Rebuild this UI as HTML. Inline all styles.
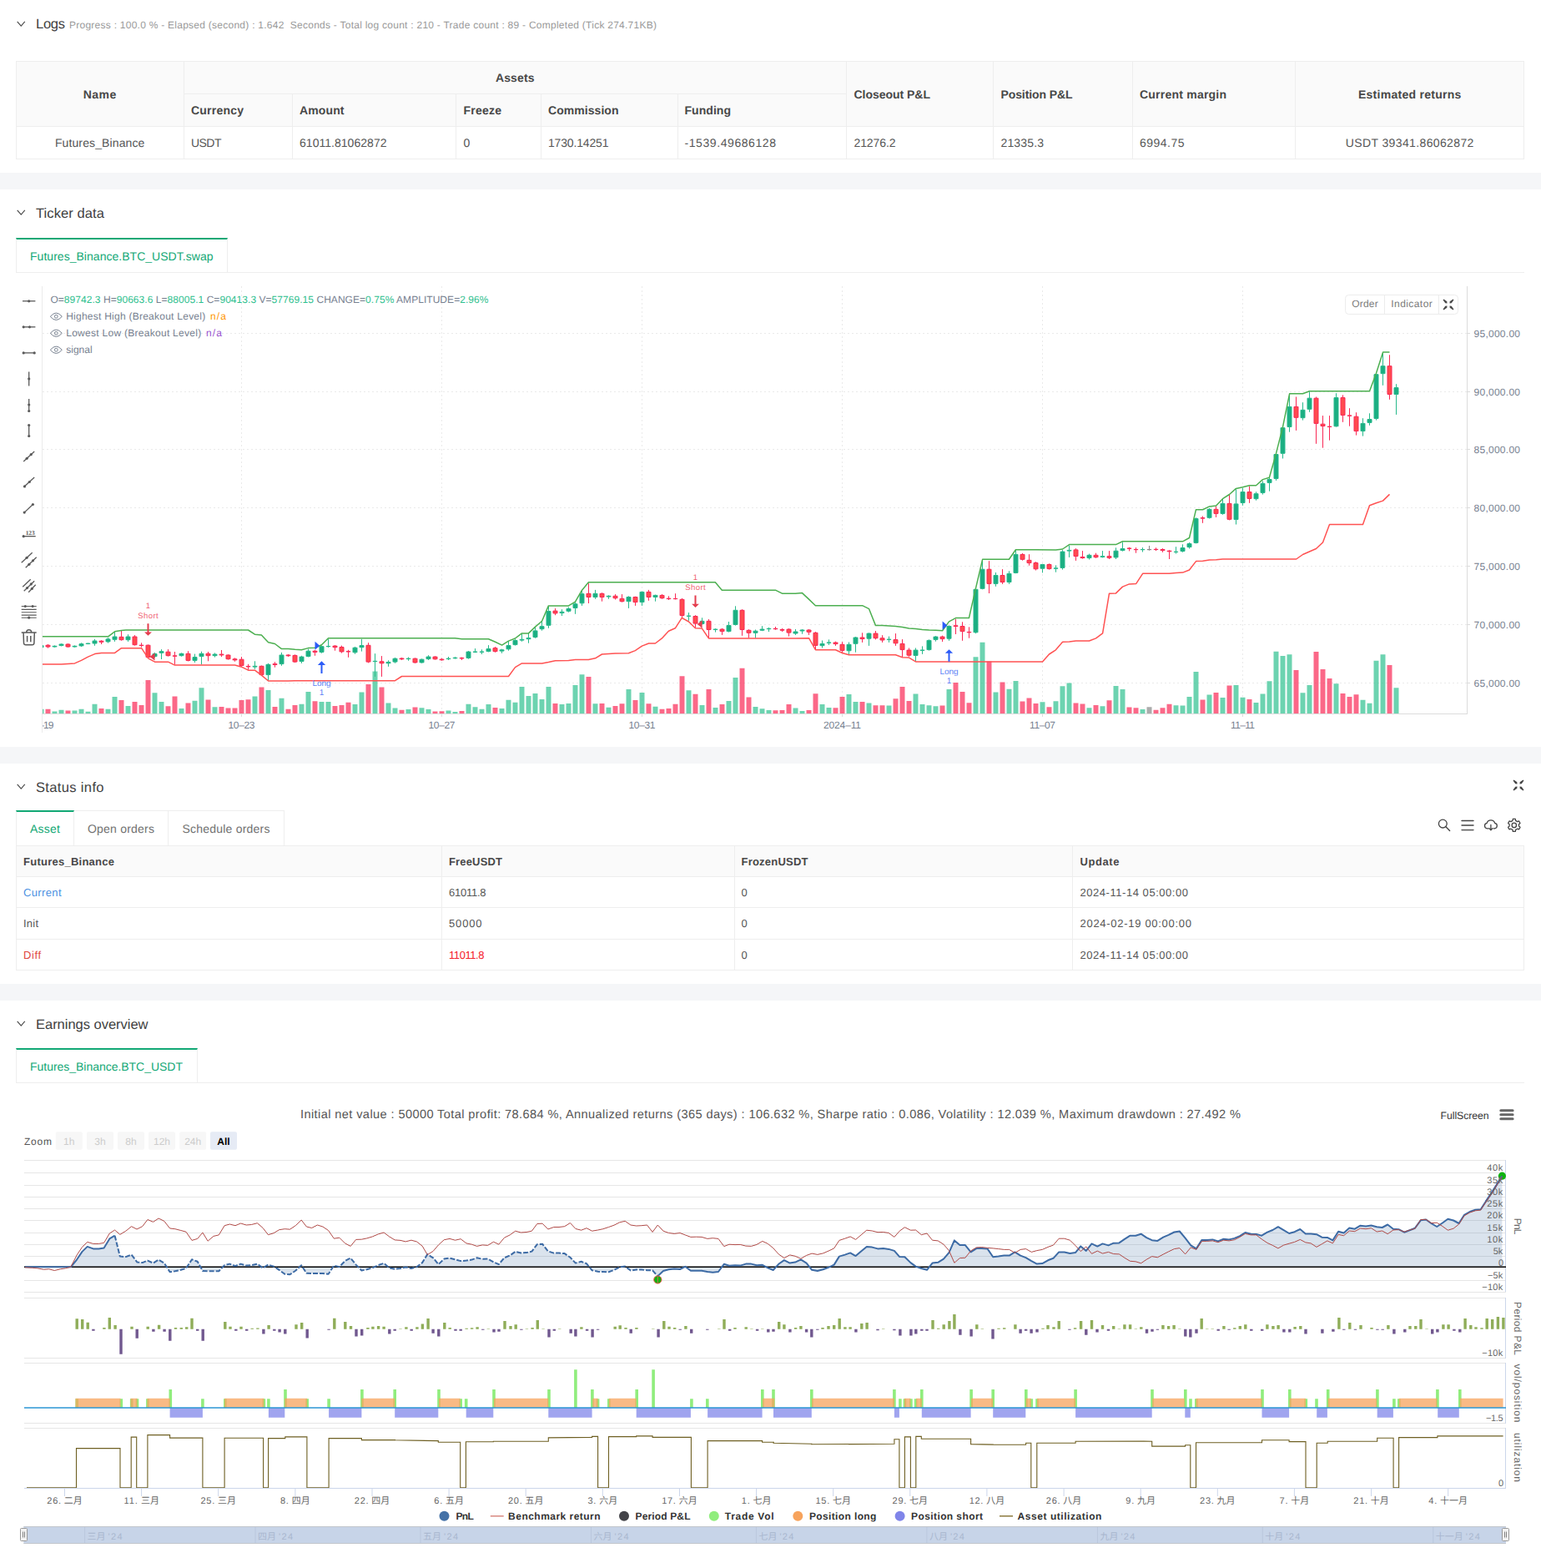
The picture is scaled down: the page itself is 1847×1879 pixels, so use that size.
<!DOCTYPE html>
<html><head><meta charset="utf-8"><title>Backtest</title>
<style>
*{box-sizing:border-box;margin:0;padding:0}
html,body{width:1847px;height:1879px;background:#fff;overflow:hidden}
body{position:relative;font-family:"Liberation Sans",sans-serif;color:#555;font-size:14px;text-rendering:geometricPrecision;-webkit-font-smoothing:antialiased}
svg text{text-rendering:geometricPrecision}
.abs{position:absolute}
.band{position:absolute;left:0;width:1847px;background:#f5f6f8}
.t{position:absolute;white-space:nowrap;line-height:1;transform:translateY(-50%)}
.tc{position:absolute;white-space:nowrap;line-height:1;transform:translate(-50%,-50%)}
.h{font-size:16.5px;color:#404040}
.b{font-weight:bold;color:#484848}
.ln{position:absolute;background:#eeeeee}
.g{color:#12a875}
svg{position:absolute;left:0;top:0}
</style></head>
<body>
<div class="band" style="top:207px;height:20px"></div>
<div class="band" style="top:895px;height:20px"></div>
<div class="band" style="top:1179px;height:20px"></div>
<svg style="left:20px;top:25.3px" width="11" height="8" viewBox="0 0 11 8"><path d="M0.7 0.9 L5.25 6.2 L9.8 0.9" fill="none" stroke="#4a4a4a" stroke-width="1.15"/></svg>
<div class="t h" style="left:43px;top:28.9px;letter-spacing:-0.260px;">Logs</div>
<div class="t " style="left:83px;top:30px;font-size:12px;color:#999;letter-spacing:0.255px;">Progress : 100.0 % - Elapsed (second) : 1.642&nbsp; Seconds - Total log count : 210 - Trade count : 89 - Completed (Tick 274.71KB)</div>
<div class="abs" style="left:19px;top:73px;width:1808px;height:79px;background:#fafafa"></div>
<div class="ln" style="left:19px;top:73px;width:1808px;height:1px;background:#eeeeee"></div>
<div class="ln" style="left:220px;top:112px;width:794px;height:1px;background:#eeeeee"></div>
<div class="ln" style="left:19px;top:151px;width:1808px;height:1px;background:#eeeeee"></div>
<div class="ln" style="left:19px;top:190px;width:1808px;height:1px;background:#eeeeee"></div>
<div class="ln" style="left:19px;top:73px;width:1px;height:118px;background:#eeeeee"></div>
<div class="ln" style="left:220px;top:73px;width:1px;height:118px;background:#eeeeee"></div>
<div class="ln" style="left:350px;top:112px;width:1px;height:79px;background:#eeeeee"></div>
<div class="ln" style="left:546px;top:112px;width:1px;height:79px;background:#eeeeee"></div>
<div class="ln" style="left:648px;top:112px;width:1px;height:79px;background:#eeeeee"></div>
<div class="ln" style="left:812px;top:112px;width:1px;height:79px;background:#eeeeee"></div>
<div class="ln" style="left:1014px;top:73px;width:1px;height:118px;background:#eeeeee"></div>
<div class="ln" style="left:1190px;top:73px;width:1px;height:118px;background:#eeeeee"></div>
<div class="ln" style="left:1357px;top:73px;width:1px;height:118px;background:#eeeeee"></div>
<div class="ln" style="left:1552px;top:73px;width:1px;height:118px;background:#eeeeee"></div>
<div class="ln" style="left:1826px;top:73px;width:1px;height:118px;background:#eeeeee"></div>
<div class="tc b" style="left:119.7px;top:113px;font-size:14px;letter-spacing:0.453px;">Name</div>
<div class="tc b" style="left:617.3px;top:93px;font-size:14px;letter-spacing:0.116px;">Assets</div>
<div class="t b" style="left:229px;top:132px;font-size:14px;letter-spacing:0.219px;">Currency</div>
<div class="t b" style="left:359px;top:132px;font-size:14px;letter-spacing:0.122px;">Amount</div>
<div class="t b" style="left:555.5px;top:132px;font-size:14px;letter-spacing:0.228px;">Freeze</div>
<div class="t b" style="left:657px;top:132px;font-size:14px;letter-spacing:0.054px;">Commission</div>
<div class="t b" style="left:820.5px;top:132px;font-size:14px;letter-spacing:0.049px;">Funding</div>
<div class="t b" style="left:1023.5px;top:113px;font-size:14px;letter-spacing:-0.026px;">Closeout P&amp;L</div>
<div class="t b" style="left:1199.5px;top:113px;font-size:14px;letter-spacing:-0.102px;">Position P&amp;L</div>
<div class="t b" style="left:1366px;top:113px;font-size:14px;letter-spacing:0.221px;">Current margin</div>
<div class="tc b" style="left:1689.8px;top:113px;font-size:14px;letter-spacing:0.278px;">Estimated returns</div>
<div class="tc " style="left:119.7px;top:171px;letter-spacing:0.118px;">Futures_Binance</div>
<div class="t " style="left:229px;top:171px;letter-spacing:-0.542px;">USDT</div>
<div class="t " style="left:359px;top:171px;letter-spacing:0.032px;">61011.81062872</div>
<div class="t " style="left:555.5px;top:171px;">0</div>
<div class="t " style="left:657px;top:171px;letter-spacing:-0.163px;">1730.14251</div>
<div class="t " style="left:820.5px;top:171px;letter-spacing:0.577px;">-1539.49686128</div>
<div class="t " style="left:1023.5px;top:171px;letter-spacing:-0.102px;">21276.2</div>
<div class="t " style="left:1199.5px;top:171px;letter-spacing:0.148px;">21335.3</div>
<div class="t " style="left:1366px;top:171px;letter-spacing:0.482px;">6994.75</div>
<div class="tc " style="left:1689.8px;top:171px;letter-spacing:0.369px;">USDT 39341.86062872</div>
<svg style="left:20px;top:251.3px" width="11" height="8" viewBox="0 0 11 8"><path d="M0.7 0.9 L5.25 6.2 L9.8 0.9" fill="none" stroke="#4a4a4a" stroke-width="1.15"/></svg>
<div class="t h" style="left:43px;top:255.8px;letter-spacing:0.098px;">Ticker data</div>
<div class="ln" style="left:19px;top:326px;width:1808px;height:1px;background:#eeeeee"></div>
<div class="abs" style="left:19px;top:285px;width:254px;height:42px;background:#fff;border:1px solid #eeeeee;border-top:2px solid #12a875;border-bottom:1px solid #eeeeee"></div>
<div class="t g" style="left:36px;top:307px;font-size:14px;letter-spacing:0.030px;">Futures_Binance.BTC_USDT.swap</div>
<svg style="left:20px;top:939.3px" width="11" height="8" viewBox="0 0 11 8"><path d="M0.7 0.9 L5.25 6.2 L9.8 0.9" fill="none" stroke="#4a4a4a" stroke-width="1.15"/></svg>
<div class="t h" style="left:43px;top:943.6px;letter-spacing:0.353px;">Status info</div>
<div class="ln" style="left:19px;top:1013px;width:1808px;height:1px;background:#eeeeee"></div>
<div class="abs" style="left:88px;top:971px;width:253px;height:43px;background:#fff;border:1px solid #eeeeee"></div>
<div class="ln" style="left:201px;top:971px;width:1px;height:42px;background:#eeeeee"></div>
<div class="abs" style="left:19px;top:971px;width:70px;height:43px;background:#fff;border:1px solid #eeeeee;border-top:2px solid #12a875;border-bottom:1px solid #eeeeee"></div>
<div class="t g" style="left:36px;top:993px;letter-spacing:0.246px;">Asset</div>
<div class="t " style="left:105px;top:993px;color:#707070;letter-spacing:0.217px;">Open orders</div>
<div class="t " style="left:218.5px;top:993px;color:#707070;letter-spacing:0.218px;">Schedule orders</div>
<div class="abs" style="left:19px;top:1013px;width:1808px;height:37px;background:#fafafa"></div>
<div class="ln" style="left:19px;top:1013px;width:1808px;height:1px;background:#eeeeee"></div>
<div class="ln" style="left:19px;top:1050px;width:1808px;height:1px;background:#eeeeee"></div>
<div class="ln" style="left:19px;top:1087px;width:1808px;height:1px;background:#eeeeee"></div>
<div class="ln" style="left:19px;top:1125px;width:1808px;height:1px;background:#eeeeee"></div>
<div class="ln" style="left:19px;top:1162px;width:1808px;height:1px;background:#eeeeee"></div>
<div class="ln" style="left:19px;top:1013px;width:1px;height:150px;background:#eeeeee"></div>
<div class="ln" style="left:529px;top:1013px;width:1px;height:150px;background:#eeeeee"></div>
<div class="ln" style="left:880px;top:1013px;width:1px;height:150px;background:#eeeeee"></div>
<div class="ln" style="left:1285px;top:1013px;width:1px;height:150px;background:#eeeeee"></div>
<div class="ln" style="left:1826px;top:1013px;width:1px;height:150px;background:#eeeeee"></div>
<div class="t b" style="left:28px;top:1032px;font-size:13px;letter-spacing:0.251px;">Futures_Binance</div>
<div class="t b" style="left:538px;top:1032px;font-size:13px;letter-spacing:0.163px;">FreeUSDT</div>
<div class="t b" style="left:888.5px;top:1032px;font-size:13px;letter-spacing:0.222px;">FrozenUSDT</div>
<div class="t b" style="left:1294.5px;top:1032px;font-size:13px;letter-spacing:0.588px;">Update</div>
<div class="t " style="left:28px;top:1069px;font-size:13px;color:#4a90e2;letter-spacing:0.357px;">Current</div>
<div class="t " style="left:538px;top:1069px;font-size:13px;color:#555;letter-spacing:-0.255px;">61011.8</div>
<div class="t " style="left:888.5px;top:1069px;font-size:13px;">0</div>
<div class="t " style="left:1294.5px;top:1069px;font-size:13px;letter-spacing:0.542px;">2024-11-14 05:00:00</div>
<div class="t " style="left:28px;top:1106px;font-size:13px;color:#555;letter-spacing:0.219px;">Init</div>
<div class="t " style="left:538px;top:1106px;font-size:13px;color:#555;letter-spacing:0.836px;">50000</div>
<div class="t " style="left:888.5px;top:1106px;font-size:13px;">0</div>
<div class="t " style="left:1294.5px;top:1106px;font-size:13px;letter-spacing:0.710px;">2024-02-19 00:00:00</div>
<div class="t " style="left:28px;top:1144px;font-size:13px;color:#e0483e;letter-spacing:0.578px;">Diff</div>
<div class="t " style="left:538px;top:1144px;font-size:13px;color:#f5222d;letter-spacing:-0.427px;">11011.8</div>
<div class="t " style="left:888.5px;top:1144px;font-size:13px;">0</div>
<div class="t " style="left:1294.5px;top:1144px;font-size:13px;letter-spacing:0.542px;">2024-11-14 05:00:00</div>
<svg style="left:20px;top:1223.3px" width="11" height="8" viewBox="0 0 11 8"><path d="M0.7 0.9 L5.25 6.2 L9.8 0.9" fill="none" stroke="#4a4a4a" stroke-width="1.15"/></svg>
<div class="t h" style="left:43px;top:1227.6px;letter-spacing:-0.020px;">Earnings overview</div>
<div class="ln" style="left:19px;top:1297px;width:1808px;height:1px;background:#eeeeee"></div>
<div class="abs" style="left:19px;top:1256px;width:218px;height:42px;background:#fff;border:1px solid #eeeeee;border-top:2px solid #12a875;border-bottom:1px solid #eeeeee"></div>
<div class="t g" style="left:36px;top:1278px;letter-spacing:-0.028px;">Futures_Binance.BTC_USDT</div>
<svg width="1847" height="1879" viewBox="0 0 1847 1879" font-family='"Liberation Sans", sans-serif'>
<defs><clipPath id="kc"><rect x="51" y="343" width="1707" height="512.5"/></clipPath><clipPath id="kc2"><rect x="51" y="858" width="100" height="22"/></clipPath></defs>
<path d="M50.5 343V878" stroke="#ebebeb" stroke-width="1" fill="none"/>
<path d="M1758.5 343V856M50 855.5H1759" stroke="#dcdcdc" stroke-width="1" fill="none"/>
<path d="M51 399.5H1758M51 469.5H1758M51 538.5H1758M51 608.5H1758M51 678.5H1758M51 748.5H1758M51 818.5H1758M289.5 343V855M529.5 343V855M769.5 343V855M1009.5 343V855M1249.5 343V855M1489.5 343V855" stroke="#eaeaea" stroke-width="1" stroke-dasharray="2 3" fill="none"/>
<path d="M1758 399.5H1762M1758 469.5H1762M1758 538.5H1762M1758 608.5H1762M1758 678.5H1762M1758 748.5H1762M1758 818.5H1762M289.5 855V859M529.5 855V859M769.5 855V859M1009.5 855V859M1249.5 855V859M1489.5 855V859" stroke="#dcdcdc" stroke-width="1" fill="none"/>
<text x="1766.5" y="403.6" font-size="12" fill="#76808f" textLength="55.5">95,000.00</text>
<text x="1766.5" y="473.6" font-size="12" fill="#76808f" textLength="55.5">90,000.00</text>
<text x="1766.5" y="542.6" font-size="12" fill="#76808f" textLength="55.5">85,000.00</text>
<text x="1766.5" y="612.6" font-size="12" fill="#76808f" textLength="55.5">80,000.00</text>
<text x="1766.5" y="682.6" font-size="12" fill="#76808f" textLength="55.5">75,000.00</text>
<text x="1766.5" y="752.6" font-size="12" fill="#76808f" textLength="55.5">70,000.00</text>
<text x="1766.5" y="822.6" font-size="12" fill="#76808f" textLength="55.5">65,000.00</text>
<text x="289.5" y="873.3" font-size="12" fill="#76808f" text-anchor="middle" textLength="32">10–23</text>
<text x="529.5" y="873.3" font-size="12" fill="#76808f" text-anchor="middle" textLength="32">10–27</text>
<text x="769.5" y="873.3" font-size="12" fill="#76808f" text-anchor="middle" textLength="32">10–31</text>
<text x="1009.5" y="873.3" font-size="12" fill="#76808f" text-anchor="middle" textLength="45">2024–11</text>
<text x="1249.5" y="873.3" font-size="12" fill="#76808f" text-anchor="middle" textLength="31">11–07</text>
<text x="1489.5" y="873.3" font-size="12" fill="#76808f" text-anchor="middle" textLength="29">11–11</text>
<text x="49.5" y="873.3" font-size="12" fill="#76808f" text-anchor="middle" textLength="30" clip-path="url(#kc2)">10–19</text>
<g clip-path="url(#kc)">
<path d="M49.5 772.7V776.7M65.5 773.4V775.8M73.5 771.2V774.4M89.5 773.4V775.8M97.5 770.3V775.1M105.5 770.5V772.2M113.5 765.8V773.8M129.5 764.1V770.6M137.5 757.6V768.9M153.5 760.2V768.9M185.5 781.9V788M193.5 778.1V790M217.5 782.4V786.7M233.5 783.6V794M241.5 780.7V796.1M257.5 782.4V787.6M305.5 792.3V801.8M321.5 794.9V815.7M337.5 781.9V797.8M361.5 785.8V794.9M369.5 777.6V787.5M385.5 773.6V782.8M393.5 765.8V775.9M425.5 775V783.7M433.5 765.8V780.6M449.5 783.2V810.9M465.5 791.3V798.8M473.5 788V794.8M489.5 787.5V791.8M505.5 789.4V794.8M513.5 785.2V791M537.5 787V791M545.5 787.1V789.7M561.5 780V789.7M569.5 777.1V782.3M577.5 778.3V784M585.5 773.1V781.4M601.5 777.6V782.8M609.5 768.4V779.7M617.5 765.8V773.6M625.5 759.8V768.8M633.5 758.9V770.7M641.5 751V764.9M649.5 744.1V755.7M657.5 726.8V752.8M673.5 730.2V738M681.5 727.6V733.7M689.5 721.6V735.8M697.5 706.9V725.9M713.5 706.9V717.8M729.5 713.3V717.8M753.5 714.3V728.9M769.5 708.6V725.9M785.5 712.6V720.7M825.5 734.1V743.8M841.5 740.3V748.4M857.5 753.1V757.6M873.5 745V757.6M881.5 726.3V749.6M905.5 754.5V764.5M913.5 750.2V756.2M921.5 751.9V757.1M953.5 754V760.9M961.5 754V759.7M985.5 767.5V776.5M993.5 766.4V773M1017.5 769.5V784.3M1025.5 763V781.7M1041.5 758.3V773.9M1065.5 762.6V769.9M1097.5 776.5V792.4M1105.5 774.4V783.9M1113.5 766.4V779.6M1121.5 762.1V768.7M1137.5 749.3V767.8M1169.5 705.1V759.1M1177.5 670.4V706.3M1193.5 686V702.8M1209.5 684.3V699.9M1217.5 659.5V687.2M1249.5 675.7V686.4M1265.5 677.4V685.7M1273.5 659.2V682.6M1281.5 653.7V667.9M1305.5 663.6V670.5M1321.5 660.1V668.4M1337.5 656.3V670M1345.5 649.7V660.6M1369.5 656.1V661.5M1409.5 655.2V663.6M1417.5 652.3V661.8M1425.5 650V657.5M1433.5 620.2V651.4M1449.5 609V621.5M1465.5 597.7V616.8M1481.5 586.3V628.5M1489.5 584.8V605.8M1505.5 589.3V599.7M1513.5 576.5V592.6M1521.5 571.6V588.7M1529.5 543.4V575.9M1537.5 511.6V549.5M1545.5 472.4V517.7M1561.5 482.2V503.6M1569.5 469.4V493.8M1601.5 471.2V511.6M1633.5 501.2V522.6M1641.5 495.3V509.8M1649.5 447.3V503.6M1657.5 422.2V461.8M1673.5 460.2V496.9" stroke="#27b98b" stroke-width="1" fill="none"/><path d="M57.5 772V776.7M81.5 771.2V775.8M121.5 767.2V772M145.5 755.4V767.7M161.5 761.1V773.6M169.5 770.3V775.5M177.5 772.4V788.8M201.5 778.1V786.6M209.5 781V796.3M225.5 780.2V792.5M249.5 781V792.3M265.5 779V787.1M273.5 784.2V790.6M281.5 788.3V792.8M289.5 787.1V798.7M297.5 795.8V802.7M313.5 797.5V809.6M329.5 793.2V799.7M345.5 784V787M353.5 784.4V794.1M377.5 778.8V785.8M401.5 773.1V779.7M409.5 773.6V782.6M417.5 778.8V787.8M441.5 770.2V794.4M457.5 786.1V810.9M481.5 788V791M497.5 788.4V794.8M521.5 786.3V790.6M529.5 788.7V791.8M553.5 787.5V791M593.5 775V781.8M665.5 729V737.2M705.5 699.1V723M721.5 710.3V720.7M737.5 712.1V718.5M745.5 712.1V721.6M761.5 714.7V725.9M777.5 706.9V719.8M793.5 712.1V717.8M801.5 714.3V719M809.5 711.2V718.5M817.5 716.9V740.6M833.5 737.2V751.9M849.5 742V764.5M865.5 752.8V760.9M889.5 730.2V761.8M897.5 754.2V764.5M929.5 751V754.8M937.5 752.8V757.1M945.5 753.1V762.6M969.5 754V760.9M977.5 757.1V778.2M1001.5 768.7V773.9M1009.5 769.2V782.5M1033.5 758.3V769.9M1049.5 756V766.4M1057.5 761.2V769.9M1073.5 759.1V773.9M1081.5 766.1V787.7M1089.5 776.5V786.9M1129.5 761.7V769M1145.5 741.8V760M1153.5 745.3V767.8M1161.5 751.4V764.7M1185.5 672.2V711M1201.5 682.1V699.9M1225.5 663V671.7M1233.5 664.2V677.7M1241.5 673.1V683.5M1257.5 675.3V682.6M1289.5 657.1V671.9M1297.5 660.1V669.6M1313.5 662.7V668.8M1329.5 660.1V670M1353.5 655.8V660.4M1361.5 656.1V662.7M1385.5 656.3V660.1M1393.5 657.1V661.8M1401.5 659.2V670M1441.5 618.5V626.8M1457.5 606.4V619.9M1473.5 592.5V623.4M1497.5 582.6V602.8M1553.5 475.5V515.9M1577.5 475.5V531.8M1585.5 498.1V536.7M1593.5 498.1V527.7M1609.5 473.4V505.8M1617.5 489.2V510.7M1625.5 494.2V521.6M1665.5 425.3V478.8" stroke="#f92855" stroke-width="1" fill="none"/><path d="M1377.5 654V659.7" stroke="#888888" stroke-width="1" fill="none"/>
<path d="M47 773.7h5V775.7h-5zM63 774.3h5V775h-5zM71 772h5V773.6h-5zM87 774.3h5V775h-5zM95 771.7h5V773.9h-5zM103 771.1h5V771.5h-5zM111 768h5V771h-5zM127 765.9h5V768.9h-5zM135 763h5V766.3h-5zM151 763h5V766.7h-5zM183 783.6h5V786.6h-5zM191 780.7h5V782.3h-5zM215 783.3h5V785.7h-5zM231 787.6h5V791.4h-5zM239 783.3h5V786.6h-5zM255 784.1h5V785.7h-5zM303 798.3h5V799.1h-5zM319 796.3h5V808.6h-5zM335 785h5V795.6h-5zM359 787.1h5V792.5h-5zM367 780.2h5V786.5h-5zM383 774.7h5V781.4h-5zM391 774.5h5V774.7h-5zM423 776.2h5V781.8h-5zM431 773.6h5V775.7h-5zM447 792.3h5V792.7h-5zM463 793.5h5V794.8h-5zM471 789.2h5V793.1h-5zM487 789.2h5V789.6h-5zM503 790.2h5V793.9h-5zM511 787.1h5V789.6h-5zM535 789.2h5V789.6h-5zM543 788.3h5V788.7h-5zM559 781.1h5V788.4h-5zM567 781.1h5V781.3h-5zM575 781.1h5V781.3h-5zM583 777.6h5V780.6h-5zM599 778.8h5V780.1h-5zM607 773.6h5V777.8h-5zM615 767.5h5V772.6h-5zM623 766.3h5V767.1h-5zM631 764.6h5V765.7h-5zM639 755.9h5V763.5h-5zM647 750.7h5V753.7h-5zM655 732.5h5V749.3h-5zM671 733.3h5V734.6h-5zM679 729.5h5V732.3h-5zM687 723.8h5V728.5h-5zM695 711.7h5V722.8h-5zM711 711.3h5V715.5h-5zM727 714.3h5V715h-5zM751 715.5h5V720.7h-5zM767 709.4h5V721.6h-5zM783 713.4h5V715.4h-5zM823 738.2h5V738.3h-5zM839 744.3h5V747.4h-5zM855 754.1h5V754.5h-5zM871 749.5h5V756.6h-5zM879 731.3h5V748.5h-5zM903 756.2h5V758.3h-5zM911 754.1h5V755.2h-5zM919 753.3h5V753.7h-5zM951 757h5V759h-5zM959 755h5V756h-5zM983 771.4h5V773.7h-5zM991 770h5V770.3h-5zM1015 772.3h5V779.8h-5zM1023 764h5V771.3h-5zM1039 759.1h5V765.2h-5zM1063 766.2h5V766.4h-5zM1095 779.1h5V785.5h-5zM1103 779.1h5V779.4h-5zM1111 767.4h5V778.6h-5zM1119 763.1h5V766.4h-5zM1135 750.5h5V765.2h-5zM1167 706.3h5V757.8h-5zM1175 682.2h5V705.3h-5zM1191 689.5h5V699.4h-5zM1207 687.4h5V697.5h-5zM1215 664.4h5V686.4h-5zM1247 676.5h5V681.2h-5zM1263 680.9h5V681.2h-5zM1271 661.1h5V680.4h-5zM1279 659.4h5V660.1h-5zM1303 665.3h5V668.6h-5zM1319 666.7h5V667.4h-5zM1335 660.2h5V667.9h-5zM1343 657.6h5V659.6h-5zM1367 658.5h5V658.7h-5zM1407 661.3h5V661.4h-5zM1415 656.6h5V660.5h-5zM1423 651.6h5V655.6h-5zM1431 621.6h5V650.4h-5zM1447 610.3h5V620.3h-5zM1463 603.4h5V615.4h-5zM1479 603.9h5V622.5h-5zM1487 589.6h5V602.5h-5zM1503 591.7h5V597.7h-5zM1511 579.4h5V590.4h-5zM1519 574.5h5V578.4h-5zM1527 544.5h5V573.5h-5zM1535 512.7h5V543.3h-5zM1543 487.4h5V511.5h-5zM1559 491.3h5V500.7h-5zM1567 477.2h5V490.3h-5zM1599 476.6h5V510.8h-5zM1631 507.4h5V516.6h-5zM1639 502.5h5V506.4h-5zM1647 448.7h5V501.5h-5zM1655 438.7h5V447.7h-5zM1671 464.6h5V472.5h-5z" fill="#1bae82" stroke="#27b98b" stroke-width="1"/><path d="M55 773.2h5V775h-5zM79 772h5V775h-5zM119 768.2h5V769.3h-5zM143 763.3h5V766.7h-5zM159 763h5V772.7h-5zM167 773.2h5V773.6h-5zM175 773.2h5V787.5h-5zM199 781.2h5V785.7h-5zM207 785.9h5V786.2h-5zM223 783.3h5V791.4h-5zM247 783.3h5V785.7h-5zM263 784.1h5V784.9h-5zM271 785h5V789.7h-5zM279 789.8h5V790.9h-5zM287 790.2h5V797.5h-5zM295 798.5h5V798.9h-5zM311 798.3h5V808.6h-5zM327 795.7h5V796.5h-5zM343 785h5V785.8h-5zM351 785.4h5V793.1h-5zM375 780.2h5V781.4h-5zM399 774.1h5V775.7h-5zM407 775.5h5V780.9h-5zM415 780.7h5V780.9h-5zM439 773.3h5V793.1h-5zM455 792.8h5V794.8h-5zM479 789h5V789.8h-5zM495 789.2h5V793.9h-5zM519 787.1h5V789.8h-5zM527 790.1h5V790.8h-5zM551 788.5h5V788.9h-5zM591 776.7h5V780.6h-5zM663 732.1h5V734.9h-5zM703 711.3h5V715.5h-5zM719 711.3h5V715.5h-5zM735 714.3h5V716.7h-5zM743 717.4h5V720.7h-5zM759 715.5h5V721.6h-5zM775 709.4h5V715.5h-5zM791 713.4h5V716.7h-5zM799 717.2h5V717.6h-5zM807 717.4h5V717.6h-5zM815 718.3h5V737.5h-5zM831 738.5h5V747.1h-5zM847 744.3h5V754.5h-5zM863 754.1h5V756.6h-5zM887 731.3h5V754.5h-5zM895 755.3h5V758.3h-5zM927 753.3h5V753.7h-5zM935 754.5h5V755.2h-5zM943 754.1h5V758.1h-5zM967 755h5V757.3h-5zM975 758.3h5V773.4h-5zM999 770h5V771.6h-5zM1007 772.3h5V779.4h-5zM1031 764h5V765.6h-5zM1047 759.1h5V764.7h-5zM1055 764.8h5V767h-5zM1071 766.6h5V770.8h-5zM1079 771.4h5V778.6h-5zM1087 779.1h5V785.2h-5zM1127 763.1h5V765.6h-5zM1143 749.8h5V750.5h-5zM1151 750.5h5V756.6h-5zM1159 757.4h5V757.8h-5zM1183 682.2h5V699.4h-5zM1199 689.5h5V697.5h-5zM1223 664.4h5V670.3h-5zM1231 671.3h5V674.6h-5zM1239 674.5h5V681.8h-5zM1255 676.5h5V681.6h-5zM1287 658.9h5V666.5h-5zM1295 667.5h5V668.6h-5zM1311 665.3h5V667.7h-5zM1327 666.7h5V668.3h-5zM1351 657.1h5V657.3h-5zM1359 658.5h5V658.7h-5zM1383 658.3h5V658.6h-5zM1391 658.5h5V659.6h-5zM1399 660.2h5V660.8h-5zM1439 620.7h5V621.1h-5zM1455 610.3h5V615.4h-5zM1471 603.4h5V622.3h-5zM1495 589.6h5V597.4h-5zM1551 487.4h5V500.3h-5zM1575 477.2h5V507.4h-5zM1583 508.2h5V510.5h-5zM1591 511.2h5V511.5h-5zM1607 476.6h5V497.4h-5zM1615 498h5V498.2h-5zM1623 499.2h5V516.6h-5zM1663 438.7h5V472.5h-5z" fill="#ff4b4f" stroke="#f92855" stroke-width="1"/><path d="M1375 658.5h5V658.7h-5z" fill="#888888" stroke="#888888" stroke-width="1"/>
<g fill-opacity="0.7"><path d="M46.5 855h6V849.8h-6zM62.5 855h6V852.4h-6zM70.5 855h6V850.7h-6zM86.5 855h6V851.4h-6zM94.5 855h6V849.8h-6zM102.5 855h6V852.7h-6zM110.5 855h6V843.7h-6zM126.5 855h6V849.8h-6zM134.5 855h6V834.9h-6zM150.5 855h6V846h-6zM182.5 855h6V830.2h-6zM190.5 855h6V841.1h-6zM214.5 855h6V848.9h-6zM230.5 855h6V839.8h-6zM238.5 855h6V824.2h-6zM254.5 855h6V847.2h-6zM302.5 855h6V834.6h-6zM318.5 855h6V827.1h-6zM334.5 855h6V836.8h-6zM358.5 855h6V843.7h-6zM366.5 855h6V829h-6zM382.5 855h6V841.1h-6zM390.5 855h6V841.1h-6zM422.5 855h6V844.1h-6zM430.5 855h6V829.5h-6zM446.5 855h6V804.4h-6zM462.5 855h6V842.4h-6zM470.5 855h6V848.6h-6zM486.5 855h6V850h-6zM502.5 855h6V848.2h-6zM510.5 855h6V850.1h-6zM534.5 855h6V851.5h-6zM542.5 855h6V853.1h-6zM558.5 855h6V843.7h-6zM566.5 855h6V847.2h-6zM574.5 855h6V849.8h-6zM582.5 855h6V843.9h-6zM598.5 855h6V849.1h-6zM606.5 855h6V838.7h-6zM614.5 855h6V841.8h-6zM622.5 855h6V823.1h-6zM630.5 855h6V833.9h-6zM638.5 855h6V831.1h-6zM646.5 855h6V838h-6zM654.5 855h6V822.9h-6zM670.5 855h6V844.1h-6zM678.5 855h6V842.9h-6zM686.5 855h6V820.9h-6zM694.5 855h6V808.2h-6zM710.5 855h6V843.2h-6zM726.5 855h6V847.7h-6zM750.5 855h6V826.1h-6zM766.5 855h6V830.1h-6zM782.5 855h6V846.7h-6zM822.5 855h6V827.3h-6zM838.5 855h6V845h-6zM854.5 855h6V848.1h-6zM870.5 855h6V839.9h-6zM878.5 855h6V812h-6zM902.5 855h6V847h-6zM910.5 855h6V849.3h-6zM918.5 855h6V851h-6zM950.5 855h6V848.4h-6zM958.5 855h6V852.1h-6zM982.5 855h6V843.9h-6zM990.5 855h6V848.1h-6zM1014.5 855h6V832.1h-6zM1022.5 855h6V841h-6zM1038.5 855h6V842.4h-6zM1062.5 855h6V845.6h-6zM1094.5 855h6V831.6h-6zM1102.5 855h6V843.9h-6zM1110.5 855h6V845.3h-6zM1118.5 855h6V846.2h-6zM1134.5 855h6V826.1h-6zM1166.5 855h6V787.3h-6zM1174.5 855h6V769.8h-6zM1190.5 855h6V829.5h-6zM1206.5 855h6V825.7h-6zM1214.5 855h6V816h-6zM1246.5 855h6V841.3h-6zM1262.5 855h6V840.3h-6zM1270.5 855h6V822.3h-6zM1278.5 855h6V818.6h-6zM1302.5 855h6V848.2h-6zM1318.5 855h6V846.3h-6zM1334.5 855h6V822.1h-6zM1342.5 855h6V826.1h-6zM1366.5 855h6V850.1h-6zM1406.5 855h6V845.3h-6zM1414.5 855h6V845.5h-6zM1422.5 855h6V835.1h-6zM1430.5 855h6V804.9h-6zM1446.5 855h6V832.5h-6zM1462.5 855h6V835.9h-6zM1478.5 855h6V820.9h-6zM1486.5 855h6V835.8h-6zM1502.5 855h6V842h-6zM1510.5 855h6V831.4h-6zM1518.5 855h6V816.2h-6zM1526.5 855h6V780.8h-6zM1534.5 855h6V786h-6zM1542.5 855h6V784.2h-6zM1558.5 855h6V830.3h-6zM1566.5 855h6V821.1h-6zM1598.5 855h6V819.3h-6zM1630.5 855h6V838.8h-6zM1638.5 855h6V842.7h-6zM1646.5 855h6V791.8h-6zM1654.5 855h6V784.2h-6zM1670.5 855h6V824.3h-6z" fill="#2DC08E"/><path d="M54.5 855h6V849.8h-6zM78.5 855h6V851.4h-6zM118.5 855h6V848.9h-6zM142.5 855h6V838.9h-6zM158.5 855h6V841h-6zM166.5 855h6V845h-6zM174.5 855h6V815h-6zM198.5 855h6V846.3h-6zM206.5 855h6V834.6h-6zM222.5 855h6V842.4h-6zM246.5 855h6V838.4h-6zM262.5 855h6V847h-6zM270.5 855h6V848.4h-6zM278.5 855h6V848.4h-6zM286.5 855h6V839.1h-6zM294.5 855h6V838.2h-6zM310.5 855h6V823.6h-6zM326.5 855h6V847h-6zM342.5 855h6V849.8h-6zM350.5 855h6V845.1h-6zM374.5 855h6V840.3h-6zM398.5 855h6V846h-6zM406.5 855h6V845.1h-6zM414.5 855h6V841.7h-6zM438.5 855h6V820h-6zM454.5 855h6V823.5h-6zM478.5 855h6V850.7h-6zM494.5 855h6V847.6h-6zM518.5 855h6V852.4h-6zM526.5 855h6V852.2h-6zM550.5 855h6V852.1h-6zM590.5 855h6V848.1h-6zM662.5 855h6V842.9h-6zM702.5 855h6V811h-6zM718.5 855h6V842.9h-6zM734.5 855h6V846h-6zM742.5 855h6V843.2h-6zM758.5 855h6V839.1h-6zM774.5 855h6V843.2h-6zM790.5 855h6V849.8h-6zM798.5 855h6V848.9h-6zM806.5 855h6V843.7h-6zM814.5 855h6V810.3h-6zM830.5 855h6V831.8h-6zM846.5 855h6V825.9h-6zM862.5 855h6V844.1h-6zM886.5 855h6V800.8h-6zM894.5 855h6V835.4h-6zM926.5 855h6V851.2h-6zM934.5 855h6V851h-6zM942.5 855h6V844.1h-6zM966.5 855h6V851h-6zM974.5 855h6V831.3h-6zM998.5 855h6V848.2h-6zM1006.5 855h6V834.9h-6zM1030.5 855h6V841.1h-6zM1046.5 855h6V845.3h-6zM1054.5 855h6V845.3h-6zM1070.5 855h6V837.2h-6zM1078.5 855h6V823.1h-6zM1086.5 855h6V840.1h-6zM1126.5 855h6V845.6h-6zM1142.5 855h6V818.1h-6zM1150.5 855h6V829h-6zM1158.5 855h6V842.2h-6zM1182.5 855h6V792.5h-6zM1198.5 855h6V817.6h-6zM1222.5 855h6V840.6h-6zM1230.5 855h6V836.6h-6zM1238.5 855h6V843h-6zM1254.5 855h6V847.2h-6zM1286.5 855h6V842.4h-6zM1294.5 855h6V843.6h-6zM1310.5 855h6V845.1h-6zM1326.5 855h6V839.2h-6zM1350.5 855h6V847.6h-6zM1358.5 855h6V848.2h-6zM1382.5 855h6V850.8h-6zM1390.5 855h6V848.2h-6zM1398.5 855h6V843.7h-6zM1438.5 855h6V838.4h-6zM1454.5 855h6V830.1h-6zM1470.5 855h6V821.6h-6zM1494.5 855h6V837.9h-6zM1550.5 855h6V803h-6zM1574.5 855h6V781.1h-6zM1582.5 855h6V801.9h-6zM1590.5 855h6V813.1h-6zM1606.5 855h6V831h-6zM1614.5 855h6V834.9h-6zM1622.5 855h6V832.3h-6zM1662.5 855h6V796.9h-6z" fill="#F92855"/><path d="M1374.5 855h6V847.2h-6z" fill="#888888"/></g>
<path d="M43.5 762.8 L129.6 762.8 L137.6 756.8 L145.5 755.4 L150.9 755 L297.5 755 L305.4 760.2 L313.4 761.1 L321.6 769.8 L329.5 771.5 L337.5 777.6 L345.5 777.6 L353.5 778.3 L361.4 778.8 L369.4 776.6 L377.6 776.2 L385.5 772.8 L393.5 764.8 L545.4 764.8 L553.6 765.8 L585.5 765.8 L593.6 769.3 L601.6 773.1 L609.5 768.1 L617.5 765 L625.5 758.9 L633.5 758.9 L641.6 751.1 L649.6 744.2 L657.4 725.9 L681.5 725.9 L689.5 721.2 L697.4 707.4 L705.4 697.8 L857.3 697.8 L865.3 707.2 L929.4 707.2 L937.4 711.2 L953.3 711.2 L961.5 710.6 L969.5 718.1 L977.4 725.7 L1033.6 725.7 L1041.6 729.7 L1049.5 749.6 L1057.5 749.6 L1065.5 750 L1073.4 750.5 L1081.6 751.4 L1089.5 753.1 L1097.5 753.6 L1105.5 754.5 L1113.5 755 L1121.4 755.3 L1129.6 755.7 L1137.5 744.9 L1145.5 740.6 L1161.4 740.6 L1169.4 705.4 L1177.6 670.3 L1209.4 670.3 L1217.4 658.7 L1241.5 658.7 L1265.4 658.9 L1273.6 658 L1281.6 652.6 L1337.5 652.6 L1345.5 648.8 L1417.6 648.8 L1425.5 644.5 L1433.5 610.7 L1441.6 610.7 L1449.6 606.9 L1457.6 605.9 L1465.5 597.7 L1473.5 592.5 L1481.5 585.4 L1489.5 583.8 L1497.5 581.7 L1505.5 581.7 L1513.5 574.6 L1521.4 572.2 L1529.5 543.4 L1537.5 511.6 L1545.6 471.8 L1561.5 471.8 L1569.5 468.8 L1641.5 468.8 L1649.5 447.3 L1657.6 421.9 L1665.5 421.9" stroke="#4caf50" stroke-width="1.5" fill="none" stroke-linejoin="round"/>
<path d="M43.5 796.1 L73.5 796.1 L89.6 794.9 L97.5 791.4 L105.5 787.1 L113.7 783.6 L121.6 782.4 L137.6 782.4 L145.5 776.7 L169.6 776.7 L177.6 788.8 L185.5 793.2 L201.5 793.2 L209.5 797.1 L281.5 797.1 L289.5 799.2 L297.5 803.2 L305.4 803.2 L313.4 809.1 L321.6 816 L345.5 816 L353.5 815.7 L473.5 815.7 L481.5 810.5 L609.5 810.5 L617.5 799.6 L625.5 794.9 L649.6 794.9 L657.4 793.5 L665.5 791.7 L681.5 791.4 L689.5 790.5 L705.4 790.5 L713.5 788.8 L721.5 784 L729.5 783.6 L737.4 783.1 L753.4 782.7 L761.4 779.6 L769.5 774.1 L777.5 771 L785.4 771 L793.4 764.9 L801.4 756.2 L809.3 752.8 L817.3 740.3 L825.5 745 L833.4 752.8 L841.4 753.1 L849.4 764.9 L953.3 764.9 L969.5 764.7 L977.4 778.7 L1001.5 778.7 L1009.5 782.5 L1017.5 784.8 L1073.4 784.8 L1081.6 787.7 L1089.5 788.1 L1097.5 792.9 L1241.5 792.9 L1249.5 793 L1257.5 784 L1265.4 778.8 L1273.6 769.2 L1281.6 768.9 L1289.5 768 L1305.5 768 L1313.6 764.9 L1321.6 758.8 L1329.5 711.2 L1337.5 710.9 L1345.5 703.1 L1353.5 699.9 L1361.6 699.6 L1369.6 687.3 L1401.6 687.3 L1409.6 686.4 L1417.6 686.1 L1425.5 683 L1433.5 672.6 L1441.6 672.2 L1449.6 671 L1457.6 670.8 L1465.5 670 L1553.7 670 L1561.5 664.5 L1569.5 661 L1577.5 657.5 L1585.5 650 L1593.5 628.5 L1633.5 628.5 L1641.5 605.8 L1649.5 602.8 L1657.5 600.1 L1665.5 592.4" stroke="#ff5252" stroke-width="1.5" fill="none" stroke-linejoin="round"/>
</g>
<text x="177.5" y="729.1" font-size="9.5" fill="#ef6272" text-anchor="middle">1</text><text x="177.5" y="741.1" font-size="9.5" fill="#ef6272" text-anchor="middle" textLength="24.5">Short</text><path d="M176.5 747.2h2v10.4h3.4l-4.4 4.2l-4.4-4.2h3.4z" fill="#e43d4e"/>
<text x="833.5" y="695.3" font-size="9.5" fill="#ef6272" text-anchor="middle">1</text><text x="833.5" y="707.3" font-size="9.5" fill="#ef6272" text-anchor="middle" textLength="24.5">Short</text><path d="M832.5 713.4h2v10.4h3.4l-4.4 4.2l-4.4-4.2h3.4z" fill="#e43d4e"/>
<path d="M385.5 792.3l4.6 4.6h-3.6v10h-2v-10h-3.6z" fill="#2b5bf7"/><text x="385.5" y="822.0999999999999" font-size="10" fill="#5b7ff5" text-anchor="middle" textLength="22">Long</text><text x="385.5" y="833.0999999999999" font-size="10" fill="#5b7ff5" text-anchor="middle">1</text>
<path d="M1137.5 778.2l4.6 4.6h-3.6v10h-2v-10h-3.6z" fill="#2b5bf7"/><text x="1137.5" y="808.0" font-size="10" fill="#5b7ff5" text-anchor="middle" textLength="22">Long</text><text x="1137.5" y="819.0" font-size="10" fill="#5b7ff5" text-anchor="middle">1</text>
<path d="M179.5 787l6-4.6v9.2z M835.8 748l5.8-4.8v9.6z" fill="#e43d4e"/>
<path d="M383.3 773.8l-5.8-5v10z M1135.4 749.6l-5.8-5.2v10.4z" fill="#2b5bf7"/>
<text x="60.4" y="363.2" font-size="12" xml:space="preserve" textLength="525"><tspan fill="#76808f">O=</tspan><tspan fill="#2dc08e">89742.3</tspan><tspan fill="#76808f"> H=</tspan><tspan fill="#2dc08e">90663.6</tspan><tspan fill="#76808f"> L=</tspan><tspan fill="#2dc08e">88005.1</tspan><tspan fill="#76808f"> C=</tspan><tspan fill="#2dc08e">90413.3</tspan><tspan fill="#76808f"> V=</tspan><tspan fill="#2dc08e">57769.15</tspan><tspan fill="#76808f"> CHANGE=</tspan><tspan fill="#2dc08e">0.75%</tspan><tspan fill="#76808f"> AMPLITUDE=</tspan><tspan fill="#2dc08e">2.96%</tspan></text>
<g fill="none" stroke="#76808f" stroke-width="1"><path d="M60.3 379.3q7 -8.4 14 0q-7 8.4 -14 0z"/><circle cx="67.3" cy="379.3" r="1.9"/></g>
<g fill="none" stroke="#76808f" stroke-width="1"><path d="M60.3 399.3q7 -8.4 14 0q-7 8.4 -14 0z"/><circle cx="67.3" cy="399.3" r="1.9"/></g>
<g fill="none" stroke="#76808f" stroke-width="1"><path d="M60.3 419.3q7 -8.4 14 0q-7 8.4 -14 0z"/><circle cx="67.3" cy="419.3" r="1.9"/></g>
<text x="79.2" y="383.3" font-size="12" fill="#76808f" textLength="167">Highest High (Breakout Level)</text>
<text x="252" y="383.3" font-size="12" fill="#ff9600" textLength="19">n/a</text>
<text x="79.2" y="403.3" font-size="12" fill="#76808f" textLength="162">Lowest Low (Breakout Level)</text>
<text x="247" y="403.3" font-size="12" fill="#9a52d0" textLength="19">n/a</text>
<text x="79.2" y="423.3" font-size="12" fill="#76808f" textLength="31.5">signal</text>
<rect x="1612.5" y="353.5" width="135" height="23" rx="4" fill="#fff" stroke="#ececec"/>
<path d="M1659.5 354V376M1724.5 354V376" stroke="#ececec" fill="none"/>
<text x="1636" y="368.3" font-size="12" fill="#7a7a7a" text-anchor="middle" textLength="31.5">Order</text>
<text x="1692" y="368.3" font-size="12" fill="#7a7a7a" text-anchor="middle" textLength="49.5">Indicator</text>
<g fill="#4a4a4a"><path d="M1729.58 359.42L1732.27 363.33L1734.5 363.5L1734.33 361.27L1730.42 358.58z"/><path d="M1742.42 359.42L1739.73 363.33L1737.5 363.5L1737.67 361.27L1741.58 358.58z"/><path d="M1729.58 370.58L1732.27 366.67L1734.5 366.5L1734.33 368.73L1730.42 371.42z"/><path d="M1742.42 370.58L1739.73 366.67L1737.5 366.5L1737.67 368.73L1741.58 371.42z"/></g>
<g stroke="#5a5a5a" stroke-width="1.3" fill="none" stroke-linecap="butt">
<path d="M27.000000000000004 360.8H42.400000000000006"/><circle cx="34.7" cy="360.8" r="1.6" fill="#5a5a5a" stroke="none"/>
<path d="M27.700000000000003 391.84000000000003H42.400000000000006"/><circle cx="28.2" cy="391.8" r="1.6" fill="#5a5a5a" stroke="none"/><circle cx="35.5" cy="391.8" r="1.6" fill="#5a5a5a" stroke="none"/>
<path d="M28.200000000000003 422.88H41.2"/><circle cx="28.2" cy="422.9" r="1.6" fill="#5a5a5a" stroke="none"/><circle cx="41.2" cy="422.9" r="1.6" fill="#5a5a5a" stroke="none"/>
<path d="M34.7 445.42V462.42"/><circle cx="34.7" cy="453.9" r="1.6" fill="#5a5a5a" stroke="none"/>
<path d="M34.7 477.96000000000004V492.46000000000004"/><circle cx="34.7" cy="485" r="1.6" fill="#5a5a5a" stroke="none"/><circle cx="34.7" cy="492.5" r="1.6" fill="#5a5a5a" stroke="none"/>
<path d="M34.7 509.5V522.5"/><circle cx="34.7" cy="509.5" r="1.6" fill="#5a5a5a" stroke="none"/><circle cx="34.7" cy="522.5" r="1.6" fill="#5a5a5a" stroke="none"/>
<path d="M28.200000000000003 553.04L41.2 541.04"/><circle cx="32.2" cy="549.3" r="1.6" fill="#5a5a5a" stroke="none"/><circle cx="37.2" cy="544.7" r="1.6" fill="#5a5a5a" stroke="none"/>
<path d="M29.200000000000003 583.08L41.2 572.08"/><circle cx="29.5" cy="582.9" r="1.6" fill="#5a5a5a" stroke="none"/><circle cx="35.3" cy="577.5" r="1.6" fill="#5a5a5a" stroke="none"/>
<path d="M29.200000000000003 614.12L39.400000000000006 604.52"/><circle cx="29.2" cy="614.1" r="1.6" fill="#5a5a5a" stroke="none"/><circle cx="39.4" cy="604.5" r="1.6" fill="#5a5a5a" stroke="none"/>
<path d="M28.700000000000003 642.6600000000001H42.7"/><circle cx="28.2" cy="642.7" r="1.6" fill="#5a5a5a" stroke="none"/><text x="36.2" y="640.7600000000001" font-size="7.4" font-weight="bold" font-family="Liberation Serif" fill="#5a5a5a" stroke="none" text-anchor="middle">123</text>
<path d="M25.700000000000003 674.2L38.7 662.2M30.700000000000003 680.2L43.7 667.7"/><circle cx="32.1" cy="668.3" r="1.6" fill="#5a5a5a" stroke="none"/><circle cx="34.9" cy="676.3" r="1.6" fill="#5a5a5a" stroke="none"/><circle cx="39.5" cy="671.8" r="1.6" fill="#5a5a5a" stroke="none"/>
<path d="M27.200000000000003 703.24L36.7 694.24M28.700000000000003 708.24L41.2 696.24M34.2 709.74L42.7 700.74"/><circle cx="32.5" cy="704.6" r="1.6" fill="#5a5a5a" stroke="none"/><circle cx="37.3" cy="699.9" r="1.6" fill="#5a5a5a" stroke="none"/><circle cx="38.3" cy="705.4" r="1.6" fill="#5a5a5a" stroke="none"/>
<path d="M25.700000000000003 726.48H43.7M25.700000000000003 730.38H43.7M25.700000000000003 733.68H43.7M25.700000000000003 737.0799999999999H43.7M25.700000000000003 740.18H43.7" stroke-width="1.1"/><circle cx="30.3" cy="726.5" r="1.6" fill="#5a5a5a" stroke="none"/><circle cx="39.1" cy="726.5" r="1.6" fill="#5a5a5a" stroke="none"/><circle cx="34.7" cy="740.2" r="1.6" fill="#5a5a5a" stroke="none"/>
<path d="M25.700000000000003 758.1199999999999H43.7M31.700000000000003 757.92q0 -3.2 3 -3.2q3 0 3 3.2M28.1 758.3199999999999L28.500000000000004 770.52q0.1 2.3 2.4 2.3H38.5q2.3 0 2.4 -2.3L41.300000000000004 758.3199999999999M32.6 762.1199999999999V769.3199999999999M36.800000000000004 762.1199999999999V769.3199999999999" stroke-width="1.5"/>
</g>
<text x="923.5" y="1340" font-size="14.6" fill="#555" text-anchor="middle" textLength="1127">Initial net value : 50000 Total profit: 78.684 %, Annualized returns (365 days) : 106.632 %, Sharpe ratio : 0.086, Volatility : 12.039 %, Maximum drawdown : 27.492 %</text>
<text x="1726.6" y="1340.8" font-size="12.3" fill="#333" textLength="58">FullScreen</text>
<path d="M1798.8 1330.8H1813.1M1798.8 1335.75H1813.1M1798.8 1340.7H1813.1" stroke="#666" stroke-width="3" fill="none" stroke-linecap="round"/>
<text x="29" y="1371.7" font-size="12" fill="#555" textLength="33">Zoom</text>
<rect x="66.8" y="1356.3" width="32" height="21.5" rx="2" fill="#f7f7f7"/>
<text x="82.8" y="1371.7" font-size="12" fill="#ccc" text-anchor="middle" >1h</text>
<rect x="104" y="1356.3" width="32" height="21.5" rx="2" fill="#f7f7f7"/>
<text x="120" y="1371.7" font-size="12" fill="#ccc" text-anchor="middle" >3h</text>
<rect x="141" y="1356.3" width="32" height="21.5" rx="2" fill="#f7f7f7"/>
<text x="157" y="1371.7" font-size="12" fill="#ccc" text-anchor="middle" >8h</text>
<rect x="178" y="1356.3" width="32" height="21.5" rx="2" fill="#f7f7f7"/>
<text x="194" y="1371.7" font-size="12" fill="#ccc" text-anchor="middle" >12h</text>
<rect x="215.2" y="1356.3" width="32" height="21.5" rx="2" fill="#f7f7f7"/>
<text x="231.2" y="1371.7" font-size="12" fill="#ccc" text-anchor="middle" >24h</text>
<rect x="252" y="1356.3" width="32" height="21.5" rx="2" fill="#e6ebf5"/>
<text x="268" y="1371.7" font-size="12" fill="#000" text-anchor="middle" font-weight="bold">All</text>
<path d="M29 1390.5H1805M29 1405.5H1805M29 1420.5H1805M29 1434.5H1805M29 1448.5H1805M29 1462.5H1805M29 1477.5H1805M29 1491.5H1805M29 1505.5H1805M29 1534.5H1805M29 1548.5H1805M29 1555.5H1805M29 1627.5H1805M29 1633.5H1805M29 1705.5H1805M29 1711.5H1805" stroke="#e6e6e6" stroke-width="1" fill="none"/>
<path d="M1804.5 1390V1548M1804.5 1555V1628M1804.5 1633V1706M1804.5 1711V1783" stroke="#ccd6eb" stroke-width="1" fill="none"/>
<path d="M30 1518.3 L84.8 1518.3 L92.2 1509.3 L98.5 1499.9 L104.7 1493.9 L111.7 1496.4 L118.4 1496.4 L124.6 1495.4 L131.3 1484.4 L137.6 1480.7 L143.8 1505.6 L150.8 1506.1 L157.5 1503.6 L164.5 1512.6 L170.7 1513.1 L176.9 1510.6 L183.6 1513.6 L190.1 1509.6 L196.8 1513.6 L203.6 1524.3 L209.8 1523.3 L216.8 1521.8 L223 1520 L230 1509.3 L236.7 1511.8 L242.9 1523 L249.1 1523.3 L255.9 1523.3 L262.3 1523.3 L269.1 1516.1 L275.3 1514.6 L282 1517.1 L288.5 1514.6 L295.2 1516.6 L301.4 1516.1 L308.4 1514.6 L315.1 1519.5 L321.4 1515.6 L328.1 1517.6 L334.6 1521.8 L341.3 1526.8 L347.5 1527.3 L354.5 1522.5 L361.2 1516.3 L367.4 1525.8 L373.7 1526 L380.4 1526 L386.9 1526 L393.6 1526.8 L400.3 1516.6 L406.8 1518.1 L413.5 1511.1 L420.2 1507.6 L426.7 1515.6 L433.4 1522.5 L439.7 1521.3 L446.4 1519.3 L453.4 1516.1 L460.1 1513.8 L466.6 1519.3 L473.2 1520.8 L480 1520 L486.2 1518.5 L492.9 1520 L499.4 1518.3 L506.1 1513.1 L512.3 1503.1 L519.1 1507.3 L525.5 1515.1 L532.3 1508.6 L539 1507.6 L545.5 1509.3 L552.2 1511.1 L558.9 1510.6 L565.4 1509.6 L571.6 1507.3 L578.3 1508.8 L584.6 1508.6 L591.5 1512.3 L597.8 1515.1 L604.5 1507.3 L611.2 1504.4 L617.7 1499.9 L624.4 1501.4 L631.1 1501.1 L637.4 1499.6 L643.8 1491.2 L650.1 1490.7 L656.8 1499.4 L663.8 1501.6 L670 1501.6 L676.7 1502.1 L683.4 1506.8 L689.9 1513.6 L696.7 1511.8 L703.1 1514.3 L709.6 1522.3 L716.6 1523.8 L722.8 1524 L729.5 1524.3 L736 1521.8 L742.7 1518.5 L749.2 1517.6 L755.9 1522.5 L762.7 1521.5 L768.9 1521.5 L775.6 1522.3 L782.1 1522.3 L788.3 1529.3 L795 1523 L801.5 1521.3 L808.2 1520.5 L815 1521 L821.2 1517.8 L827.9 1522.8 L834.4 1522.8 L841.1 1522.8 L847.8 1524 L854.3 1524.8 L861 1524 L867.8 1514.8 L874 1516.8 L881 1516.3 L887.2 1516.6 L893.9 1514.6 L900.4 1514.6 L907.1 1516.3 L913.8 1515.8 L920.3 1519.3 L926.7 1522 L933.2 1514.8 L939.9 1510.1 L946.7 1513.6 L953.1 1512.6 L959.9 1509.3 L966.6 1513.6 L973.1 1521.8 L979.8 1523 L986.5 1521.3 L993 1518.8 L999.7 1515.6 L1005.9 1505.6 L1012.7 1503.6 L1019.1 1501.4 L1025.6 1505.1 L1032.1 1499.4 L1038.8 1493.9 L1045.3 1494.6 L1052 1496.4 L1058.7 1496.1 L1065.2 1496.9 L1071.9 1498.9 L1078.2 1506.1 L1084.4 1506.3 L1091.4 1513.1 L1097.6 1517.6 L1104.3 1520 L1111 1521.8 L1117.5 1513.6 L1124.2 1512.8 L1131 1508.6 L1137.4 1501.1 L1143.9 1486.4 L1150.4 1491.9 L1156.9 1492.1 L1163.6 1500.4 L1170.3 1496.1 L1176.8 1496.1 L1183.5 1496.4 L1190.2 1506.3 L1196.7 1505.6 L1203.4 1504.6 L1209.7 1504.6 L1216.4 1500.4 L1223.1 1504.6 L1229.6 1507.1 L1236.3 1511.1 L1242.8 1514.6 L1249.3 1514.1 L1256 1510.3 L1262.5 1507.8 L1269.2 1500.4 L1275.7 1500.4 L1282.4 1501.9 L1288.9 1501.1 L1295.3 1493.4 L1301.8 1498.9 L1308.5 1490.4 L1315.3 1493.6 L1321.5 1490.4 L1328.5 1492.4 L1334.7 1489.7 L1341.4 1489.4 L1347.9 1484.9 L1354.6 1480.7 L1361.1 1480.7 L1367.6 1478.7 L1374.2 1483.2 L1380.7 1486.2 L1387.4 1486.9 L1394.2 1482.7 L1400.6 1479.9 L1407.4 1476.5 L1413.8 1475.5 L1420.6 1483.7 L1427.3 1492.4 L1433.8 1496.4 L1440.5 1485.9 L1446.7 1485.9 L1453.4 1485.4 L1459.9 1487.4 L1466.6 1484.7 L1473.1 1485.4 L1479.6 1483.9 L1486.1 1481.2 L1492.5 1477 L1499.3 1478.7 L1505.7 1478.9 L1512.2 1480.7 L1518.9 1476.7 L1525.4 1474 L1531.9 1470.2 L1538.6 1474.2 L1545.1 1478 L1551.6 1476.2 L1558.3 1473 L1564.8 1478.4 L1571.2 1478.4 L1578 1479.2 L1584.4 1482.7 L1590.9 1482.9 L1597.4 1486.4 L1604.1 1475.7 L1610.6 1477.5 L1617.3 1471.5 L1623.8 1472.7 L1630.5 1468.7 L1637 1469.5 L1643.5 1468.5 L1650.2 1470.2 L1656.7 1471 L1663.2 1467.5 L1669.9 1472.7 L1676.4 1473.2 L1683.1 1476.7 L1689.6 1474.2 L1696 1471.7 L1702.8 1462.3 L1709.2 1461.5 L1715.7 1466.2 L1722.2 1470 L1728.9 1465.5 L1735.4 1460.8 L1742.1 1462.5 L1748.6 1466 L1755.1 1455.8 L1761.8 1452 L1768.3 1449.8 L1774.7 1449.3 L1781 1439.6 L1787.7 1429.6 L1794.2 1419.2 L1800.4 1409.2 L1800.4 1518.3 L30 1518.3z" fill="#4572a7" fill-opacity="0.2"/>
<path d="M29 1518.3H1805" stroke="#000" stroke-width="1.5" fill="none"/>
<path d="M30 1518.3 L84.8 1518.3 L92.2 1509.3 L98.5 1499.9 L104.7 1493.9 L111.7 1496.4 L118.4 1496.4 L124.6 1495.4 L131.3 1484.4 L137.6 1480.7" stroke="#3d6ba5" stroke-width="2" fill="none" stroke-linejoin="round"/>
<path d="M137.6 1480.7 L143.8 1505.6 L150.8 1506.1 L157.5 1503.6 L164.5 1512.6 L170.7 1513.1 L176.9 1510.6 L183.6 1513.6 L190.1 1509.6 L196.8 1513.6 L203.6 1524.3 L209.8 1523.3 L216.8 1521.8 L223 1520 L230 1509.3 L236.7 1511.8 L242.9 1523 L249.1 1523.3 L255.9 1523.3 L262.3 1523.3 L269.1 1516.1 L275.3 1514.6 L282 1517.1 L288.5 1514.6 L295.2 1516.6 L301.4 1516.1 L308.4 1514.6 L315.1 1519.5 L321.4 1515.6 L328.1 1517.6 L334.6 1521.8 L341.3 1526.8 L347.5 1527.3 L354.5 1522.5 L361.2 1516.3 L367.4 1525.8 L373.7 1526 L380.4 1526 L386.9 1526 L393.6 1526.8 L400.3 1516.6 L406.8 1518.1 L413.5 1511.1 L420.2 1507.6 L426.7 1515.6 L433.4 1522.5 L439.7 1521.3 L446.4 1519.3 L453.4 1516.1 L460.1 1513.8 L466.6 1519.3 L473.2 1520.8 L480 1520 L486.2 1518.5 L492.9 1520 L499.4 1518.3 L506.1 1513.1 L512.3 1503.1 L519.1 1507.3 L525.5 1515.1 L532.3 1508.6 L539 1507.6 L545.5 1509.3 L552.2 1511.1 L558.9 1510.6 L565.4 1509.6 L571.6 1507.3 L578.3 1508.8 L584.6 1508.6 L591.5 1512.3 L597.8 1515.1 L604.5 1507.3 L611.2 1504.4 L617.7 1499.9 L624.4 1501.4 L631.1 1501.1 L637.4 1499.6 L643.8 1491.2 L650.1 1490.7 L656.8 1499.4 L663.8 1501.6 L670 1501.6 L676.7 1502.1 L683.4 1506.8 L689.9 1513.6 L696.7 1511.8 L703.1 1514.3 L709.6 1522.3 L716.6 1523.8 L722.8 1524 L729.5 1524.3 L736 1521.8 L742.7 1518.5 L749.2 1517.6 L755.9 1522.5 L762.7 1521.5 L768.9 1521.5 L775.6 1522.3 L782.1 1522.3 L788.3 1529.3" stroke="#3d6ba5" stroke-width="2" fill="none" stroke-dasharray="6 2" stroke-linejoin="round"/>
<path d="M788.3 1529.3 L795 1523 L801.5 1521.3 L808.2 1520.5 L815 1521 L821.2 1517.8 L827.9 1522.8 L834.4 1522.8 L841.1 1522.8 L847.8 1524 L854.3 1524.8 L861 1524 L867.8 1514.8 L874 1516.8 L881 1516.3 L887.2 1516.6 L893.9 1514.6 L900.4 1514.6 L907.1 1516.3 L913.8 1515.8 L920.3 1519.3 L926.7 1522 L933.2 1514.8 L939.9 1510.1 L946.7 1513.6 L953.1 1512.6 L959.9 1509.3 L966.6 1513.6 L973.1 1521.8 L979.8 1523 L986.5 1521.3 L993 1518.8 L999.7 1515.6 L1005.9 1505.6 L1012.7 1503.6 L1019.1 1501.4 L1025.6 1505.1 L1032.1 1499.4 L1038.8 1493.9 L1045.3 1494.6 L1052 1496.4 L1058.7 1496.1 L1065.2 1496.9 L1071.9 1498.9 L1078.2 1506.1 L1084.4 1506.3 L1091.4 1513.1 L1097.6 1517.6 L1104.3 1520 L1111 1521.8 L1117.5 1513.6 L1124.2 1512.8 L1131 1508.6 L1137.4 1501.1 L1143.9 1486.4 L1150.4 1491.9 L1156.9 1492.1 L1163.6 1500.4 L1170.3 1496.1 L1176.8 1496.1 L1183.5 1496.4 L1190.2 1506.3 L1196.7 1505.6 L1203.4 1504.6 L1209.7 1504.6 L1216.4 1500.4 L1223.1 1504.6 L1229.6 1507.1 L1236.3 1511.1 L1242.8 1514.6 L1249.3 1514.1 L1256 1510.3 L1262.5 1507.8 L1269.2 1500.4 L1275.7 1500.4 L1282.4 1501.9 L1288.9 1501.1 L1295.3 1493.4 L1301.8 1498.9 L1308.5 1490.4 L1315.3 1493.6 L1321.5 1490.4 L1328.5 1492.4 L1334.7 1489.7 L1341.4 1489.4 L1347.9 1484.9 L1354.6 1480.7 L1361.1 1480.7 L1367.6 1478.7 L1374.2 1483.2 L1380.7 1486.2 L1387.4 1486.9 L1394.2 1482.7 L1400.6 1479.9 L1407.4 1476.5 L1413.8 1475.5 L1420.6 1483.7 L1427.3 1492.4 L1433.8 1496.4 L1440.5 1485.9 L1446.7 1485.9 L1453.4 1485.4 L1459.9 1487.4 L1466.6 1484.7 L1473.1 1485.4 L1479.6 1483.9 L1486.1 1481.2 L1492.5 1477 L1499.3 1478.7 L1505.7 1478.9 L1512.2 1480.7 L1518.9 1476.7 L1525.4 1474 L1531.9 1470.2 L1538.6 1474.2 L1545.1 1478 L1551.6 1476.2 L1558.3 1473 L1564.8 1478.4 L1571.2 1478.4 L1578 1479.2 L1584.4 1482.7 L1590.9 1482.9 L1597.4 1486.4 L1604.1 1475.7 L1610.6 1477.5 L1617.3 1471.5 L1623.8 1472.7 L1630.5 1468.7 L1637 1469.5 L1643.5 1468.5 L1650.2 1470.2 L1656.7 1471 L1663.2 1467.5 L1669.9 1472.7 L1676.4 1473.2 L1683.1 1476.7 L1689.6 1474.2 L1696 1471.7 L1702.8 1462.3 L1709.2 1461.5 L1715.7 1466.2 L1722.2 1470 L1728.9 1465.5 L1735.4 1460.8 L1742.1 1462.5 L1748.6 1466 L1755.1 1455.8 L1761.8 1452 L1768.3 1449.8 L1774.7 1449.3 L1781 1439.6 L1787.7 1429.6 L1794.2 1419.2 L1800.4 1409.2" stroke="#3d6ba5" stroke-width="2" fill="none" stroke-linejoin="round"/>
<path d="M30 1518.8 L38.7 1519.3 L44.9 1519.8 L52.4 1521.3 L58.6 1520.8 L65.3 1522.5 L72.3 1520.8 L78.5 1519.8 L84.8 1518.3 L92.2 1503.9 L98.5 1494.4 L104.7 1488.4 L111.7 1490.4 L118.4 1490.4 L124.6 1489.4 L131.3 1478 L137.6 1474 L143.8 1479.4 L150.8 1475.2 L157.5 1469.7 L164 1473 L170.7 1469.7 L176.9 1461.5 L183.6 1464.3 L190.1 1460 L196.8 1463.3 L203.6 1472 L209.8 1472.7 L216.8 1474.5 L223 1476.2 L230 1486.4 L236.7 1484.4 L242.9 1477 L249.1 1487.2 L255.9 1481.4 L262.3 1479.9 L269.1 1468.7 L275.3 1467 L282 1468.7 L288.5 1466 L295.2 1468 L301.4 1467.5 L308.4 1465.7 L315.1 1471.5 L321.4 1479.7 L328.1 1477.7 L334.6 1473.7 L341.3 1472.7 L347.5 1473.2 L354.5 1468.5 L361.2 1462 L367.4 1470 L373.7 1471.5 L380.4 1468 L386.9 1470 L393.6 1474.5 L400.3 1484.2 L406.8 1483.2 L413.5 1489.9 L420.2 1493.4 L426.7 1485.4 L433.4 1485.2 L439.7 1483.9 L446.4 1481.9 L453.4 1478.9 L460.1 1477 L466.6 1481.9 L473.2 1485.9 L480 1486.4 L486.2 1487.9 L492.9 1486.2 L499.4 1487.9 L506.1 1493.1 L512.3 1503.6 L519.1 1499.4 L525.5 1491.9 L532.3 1485.7 L539 1484.4 L545.5 1486.2 L552.2 1484.7 L558.9 1489.9 L565.4 1491.2 L571.6 1493.4 L578.3 1491.9 L584.6 1492.4 L591.5 1488.2 L597.8 1491.2 L604.5 1483.2 L611.2 1479.9 L617.7 1475.2 L624.4 1477 L631.1 1476.5 L637.4 1475.2 L643.8 1466.5 L650.1 1466.2 L656.8 1473 L663.8 1470.5 L670 1470.5 L676.7 1469.7 L683.4 1465.5 L689.9 1472.5 L696.7 1474.2 L703.1 1471.7 L709.6 1475.2 L716.6 1474 L722.8 1472.7 L729.5 1470.5 L736 1468.2 L742.7 1464.8 L749.2 1463.3 L755.9 1468 L762.7 1469 L768.9 1468.7 L775.6 1468 L782.1 1476.5 L788.3 1468 L795 1475.2 L801.5 1477.5 L808.2 1478.4 L815 1477.5 L821.2 1479.9 L827.9 1482.4 L834.4 1482.2 L841.1 1482.4 L847.8 1484.4 L854.3 1483.7 L861 1484.4 L867.8 1493.6 L874 1491.2 L881 1491.6 L887.2 1491.4 L893.9 1493.1 L900.4 1493.4 L907.1 1491.4 L913.8 1487.4 L920.3 1490.4 L926.7 1495.6 L933.2 1502.9 L939.9 1507.6 L946.7 1503.9 L953.1 1505.3 L959.9 1508.3 L966.6 1504.4 L973.1 1502.1 L979.8 1503.4 L986.5 1501.9 L993 1499.1 L999.7 1495.9 L1005.9 1486.4 L1012.7 1484.2 L1019.1 1481.9 L1025.6 1485.4 L1032.1 1479.9 L1038.8 1474.2 L1045.3 1475 L1052 1476.7 L1058.7 1476.5 L1065.2 1477.5 L1071.9 1482.4 L1078.2 1475.2 L1084.4 1470.7 L1091.4 1474.2 L1097.6 1474 L1104.3 1479.7 L1111 1478 L1117.5 1486.2 L1124.2 1486.9 L1131 1491.2 L1137.4 1498.6 L1143.9 1513.3 L1150.4 1507.6 L1156.9 1507.3 L1163.6 1498.9 L1170.3 1494.9 L1176.8 1494.6 L1183.5 1495.4 L1190.2 1495.9 L1196.7 1496.6 L1203.4 1497.4 L1209.7 1497.4 L1216.4 1501.4 L1223.1 1497.4 L1229.6 1496.6 L1236.3 1500.4 L1242.8 1498.6 L1249.3 1497.4 L1256 1494.4 L1262.5 1492.1 L1269.2 1484.2 L1275.7 1484.2 L1282.4 1486.2 L1288.9 1492.4 L1295.3 1499.6 L1301.8 1493.9 L1308.5 1502.4 L1315.3 1499.1 L1321.5 1502.1 L1328.5 1500.4 L1334.7 1502.6 L1341.4 1502.9 L1347.9 1507.3 L1354.6 1511.3 L1361.1 1511.8 L1367.6 1513.8 L1374.2 1509.3 L1380.7 1505.6 L1387.4 1506.8 L1394.2 1503.1 L1400.6 1499.9 L1407.4 1496.6 L1413.8 1495.6 L1420.6 1502.9 L1427.3 1494.9 L1433.8 1497.4 L1440.5 1487.4 L1446.7 1487.4 L1453.4 1486.9 L1459.9 1488.7 L1466.6 1486.2 L1473.1 1486.9 L1479.6 1485.7 L1486.1 1482.4 L1492.5 1478.4 L1499.3 1479.9 L1505.7 1479.9 L1512.2 1484.9 L1518.9 1489.4 L1525.4 1492.4 L1531.9 1495.9 L1538.6 1492.1 L1545.1 1490.2 L1551.6 1488.4 L1558.3 1485.4 L1564.8 1488.9 L1571.2 1489.9 L1578 1494.4 L1584.4 1490.7 L1590.9 1486.9 L1597.4 1489.9 L1604.1 1479.4 L1610.6 1480.7 L1617.3 1475 L1623.8 1475.7 L1630.5 1472 L1637 1472.7 L1643.5 1471.7 L1650.2 1476 L1656.7 1475 L1663.2 1478.7 L1669.9 1474 L1676.4 1473.5 L1683.1 1476.2 L1689.6 1474 L1696 1472.2 L1702.8 1461.5 L1709.2 1461.3 L1715.7 1465.7 L1722.2 1465.2 L1728.9 1469.5 L1735.4 1474.2 L1742.1 1472.2 L1748.6 1467 L1755.1 1456.8 L1761.8 1453 L1768.3 1450.8 L1774.7 1450.1 L1781 1440.3 L1787.7 1430.4 L1794.2 1419.9 L1800.4 1410.2" stroke="#b04a47" stroke-width="1" fill="none" stroke-linejoin="round"/>
<circle cx="788.3" cy="1533.5" r="4.6" fill="#0fb30f" stroke="#f0483e" stroke-width="0.9"/><path d="M788.3 1529.5V1537.5" stroke="#e66" stroke-width="0.8"/>
<circle cx="1800.4" cy="1409.2" r="4.6" fill="#0fb30f"/>
<path d="M1781 1439.6 L1787.7 1429.6 L1794.2 1419.2 L1800.4 1409.2" stroke="#3d6ba5" stroke-width="2" fill="none"/><path d="M1781 1440.3 L1787.7 1430.4 L1794.2 1419.9 L1800.4 1410.2" stroke="#b04a47" stroke-width="1" fill="none"/>
<text x="1782.3" y="1402.5" font-size="11" fill="#666" textLength="18.9">40k</text>
<text x="1782.3" y="1417.5" font-size="11" fill="#666" textLength="18.9">35k</text>
<text x="1782.3" y="1431.5" font-size="11" fill="#666" textLength="18.9">30k</text>
<text x="1782.3" y="1445.5" font-size="11" fill="#666" textLength="18.9">25k</text>
<text x="1782.3" y="1459.5" font-size="11" fill="#666" textLength="18.9">20k</text>
<text x="1782.3" y="1474.5" font-size="11" fill="#666" textLength="18.9">15k</text>
<text x="1782.3" y="1488.5" font-size="11" fill="#666" textLength="18.9">10k</text>
<text x="1789.7" y="1502.5" font-size="11" fill="#666" textLength="11.5">5k</text>
<text x="1795.9" y="1516.8" font-size="11" fill="#666" textLength="5.3">0</text>
<text x="1783" y="1531.5" font-size="11" fill="#666" textLength="18.2">−5k</text>
<text x="1776.3" y="1545.5" font-size="11" fill="#666" textLength="24.9">−10k</text>
<text x="1776.3" y="1625.2" font-size="11" fill="#666" textLength="24.9">−10k</text>
<text x="1781" y="1703.2" font-size="11" fill="#666" textLength="20.5">−1.5</text>
<text x="1796" y="1781" font-size="11" fill="#666" textLength="5.3">0</text>
<text transform="translate(1814.5 1469.6) rotate(90)" font-size="12" fill="#666" text-anchor="middle" textLength="19.6">PnL</text>
<text transform="translate(1814.5 1592) rotate(90)" font-size="12" fill="#666" text-anchor="middle" textLength="64">Period P&amp;L</text>
<text transform="translate(1814.5 1669.5) rotate(90)" font-size="12" fill="#666" text-anchor="middle" textLength="70">vol/position</text>
<text transform="translate(1814.5 1746.5) rotate(90)" font-size="12" fill="#666" text-anchor="middle" textLength="59">utilization</text>
<path d="M90.5 1592.8h3.4v-12.5h-3.4zM97 1592.8h3.4v-11.7h-3.4zM103.5 1592.8h3.4v-8h-3.4zM123.2 1592.8h3.4v-1.7h-3.4zM129.6 1592.8h3.4v-13.7h-3.4zM136.4 1592.8h3.4v-4.7h-3.4zM156.3 1592.8h3.4v-3h-3.4zM175.5 1592.8h3.4v-3h-3.4zM188.9 1592.8h3.4v-5h-3.4zM208.8 1592.8h3.4v-1.7h-3.4zM215.6 1592.8h3.4v-1.7h-3.4zM222 1592.8h3.4v-2.5h-3.4zM228.3 1592.8h3.4v-13h-3.4zM268.1 1592.8h3.4v-8.7h-3.4zM274.3 1592.8h3.4v-3h-3.4zM287.3 1592.8h3.4v-3h-3.4zM300.5 1592.8h3.4v-1h-3.4zM307.2 1592.8h3.4v-1.2h-3.4zM320.4 1592.8h3.4v-4.7h-3.4zM353.3 1592.8h3.4v-5.5h-3.4zM360 1592.8h3.4v-7.7h-3.4zM399.1 1592.8h3.4v-13h-3.4zM412.1 1592.8h3.4v-8.7h-3.4zM418.8 1592.8h3.4v-3.7h-3.4zM439.2 1592.8h3.4v-1.7h-3.4zM445.2 1592.8h3.4v-3h-3.4zM451.9 1592.8h3.4v-3.7h-3.4zM458.4 1592.8h3.4v-3h-3.4zM478.3 1592.8h3.4v-0.6h-3.4zM485.2 1592.8h3.4v-2.5h-3.4zM498.2 1592.8h3.4v-2.5h-3.4zM504.7 1592.8h3.4v-6.2h-3.4zM511.4 1592.8h3.4v-12.7h-3.4zM531.1 1592.8h3.4v-7.7h-3.4zM537.5 1592.8h3.4v-1.7h-3.4zM557.5 1592.8h3.4v-1h-3.4zM563.9 1592.8h3.4v-1.5h-3.4zM570.4 1592.8h3.4v-2.5h-3.4zM583.6 1592.8h3.4v-0.6h-3.4zM603.3 1592.8h3.4v-9.7h-3.4zM610.3 1592.8h3.4v-3.7h-3.4zM616.5 1592.8h3.4v-5.5h-3.4zM629.7 1592.8h3.4v-0.6h-3.4zM636.4 1592.8h3.4v-1.7h-3.4zM642.6 1592.8h3.4v-10.7h-3.4zM649.4 1592.8h3.4v-0.6h-3.4zM669 1592.8h3.4v-0.6h-3.4zM695.2 1592.8h3.4v-2.5h-3.4zM735.5 1592.8h3.4v-3h-3.4zM741.5 1592.8h3.4v-4.5h-3.4zM748.3 1592.8h3.4v-1.7h-3.4zM761.2 1592.8h3.4v-1.7h-3.4zM781.1 1592.8h3.4v-0.6h-3.4zM794.1 1592.8h3.4v-9.7h-3.4zM800.3 1592.8h3.4v-3h-3.4zM807 1592.8h3.4v-1.7h-3.4zM820.2 1592.8h3.4v-3.7h-3.4zM860.1 1592.8h3.4v-0.6h-3.4zM866.3 1592.8h3.4v-11.7h-3.4zM879.3 1592.8h3.4v-1.7h-3.4zM892.5 1592.8h3.4v-2.5h-3.4zM899.2 1592.8h3.4v-0.6h-3.4zM912.1 1592.8h3.4v-0.6h-3.4zM932 1592.8h3.4v-8.7h-3.4zM938.2 1592.8h3.4v-5.5h-3.4zM951.9 1592.8h3.4v-1.7h-3.4zM958.2 1592.8h3.4v-3.7h-3.4zM984.3 1592.8h3.4v-1.7h-3.4zM991.3 1592.8h3.4v-3.7h-3.4zM998 1592.8h3.4v-4.7h-3.4zM1004.5 1592.8h3.4v-12.7h-3.4zM1011.2 1592.8h3.4v-2.5h-3.4zM1017.4 1592.8h3.4v-2.5h-3.4zM1031.1 1592.8h3.4v-6.7h-3.4zM1037.4 1592.8h3.4v-7.7h-3.4zM1057 1592.8h3.4v-0.6h-3.4zM1116.3 1592.8h3.4v-10.7h-3.4zM1123 1592.8h3.4v-1h-3.4zM1129.5 1592.8h3.4v-5.5h-3.4zM1136.2 1592.8h3.4v-9.7h-3.4zM1142.2 1592.8h3.4v-17.7h-3.4zM1169.1 1592.8h3.4v-5.5h-3.4zM1175.6 1592.8h3.4v-0.6h-3.4zM1195.3 1592.8h3.4v-1h-3.4zM1202 1592.8h3.4v-1.5h-3.4zM1215.2 1592.8h3.4v-5.5h-3.4zM1248.3 1592.8h3.4v-1h-3.4zM1254.3 1592.8h3.4v-4.7h-3.4zM1261.3 1592.8h3.4v-2.5h-3.4zM1267.5 1592.8h3.4v-9.7h-3.4zM1286.9 1592.8h3.4v-1.5h-3.4zM1293.9 1592.8h3.4v-9.7h-3.4zM1306.8 1592.8h3.4v-10.7h-3.4zM1319.8 1592.8h3.4v-4.7h-3.4zM1333 1592.8h3.4v-3.7h-3.4zM1339.7 1592.8h3.4v-0.6h-3.4zM1346.2 1592.8h3.4v-5.5h-3.4zM1352.9 1592.8h3.4v-5.5h-3.4zM1359.6 1592.8h3.4v-0.6h-3.4zM1366.1 1592.8h3.4v-2.5h-3.4zM1392.2 1592.8h3.4v-4.7h-3.4zM1398.9 1592.8h3.4v-3.7h-3.4zM1405.4 1592.8h3.4v-4.7h-3.4zM1412.1 1592.8h3.4v-0.6h-3.4zM1438.5 1592.8h3.4v-12.7h-3.4zM1445 1592.8h3.4v-0.6h-3.4zM1451.5 1592.8h3.4v-0.6h-3.4zM1465.2 1592.8h3.4v-3.7h-3.4zM1478.1 1592.8h3.4v-1.5h-3.4zM1484.6 1592.8h3.4v-3.7h-3.4zM1491.1 1592.8h3.4v-5.5h-3.4zM1517.2 1592.8h3.4v-5.5h-3.4zM1524.2 1592.8h3.4v-3.7h-3.4zM1530.4 1592.8h3.4v-4.7h-3.4zM1550.4 1592.8h3.4v-2.7h-3.4zM1557.1 1592.8h3.4v-3.7h-3.4zM1603.2 1592.8h3.4v-13.7h-3.4zM1616.1 1592.8h3.4v-7.7h-3.4zM1629.3 1592.8h3.4v-4.7h-3.4zM1642.3 1592.8h3.4v-1.7h-3.4zM1662.2 1592.8h3.4v-4.7h-3.4zM1688.3 1592.8h3.4v-3.7h-3.4zM1695.1 1592.8h3.4v-3.7h-3.4zM1701.3 1592.8h3.4v-11.7h-3.4zM1708.3 1592.8h3.4v-0.6h-3.4zM1728.2 1592.8h3.4v-5.5h-3.4zM1734.4 1592.8h3.4v-5.5h-3.4zM1754.4 1592.8h3.4v-12.7h-3.4zM1761.1 1592.8h3.4v-4.7h-3.4zM1767.3 1592.8h3.4v-2.5h-3.4zM1774.3 1592.8h3.4v-1.5h-3.4zM1780.5 1592.8h3.4v-12.7h-3.4zM1787 1592.8h3.4v-11.7h-3.4zM1793.7 1592.8h3.4v-14.7h-3.4zM1800.2 1592.8h3.4v-13.7h-3.4z" fill="#8fad59"/><path d="M110.2 1592.8h3.4v2h-3.4zM143.3 1592.8h3.4v29.9h-3.4zM162.5 1592.8h3.4v11h-3.4zM182.2 1592.8h3.4v3h-3.4zM195.4 1592.8h3.4v3h-3.4zM202.1 1592.8h3.4v13.9h-3.4zM235 1592.8h3.4v2h-3.4zM241.5 1592.8h3.4v13.9h-3.4zM281.1 1592.8h3.4v2h-3.4zM294 1592.8h3.4v2h-3.4zM314.2 1592.8h3.4v5.7h-3.4zM327.1 1592.8h3.4v2h-3.4zM333.4 1592.8h3.4v3.7h-3.4zM340.1 1592.8h3.4v5.7h-3.4zM366.5 1592.8h3.4v10.7h-3.4zM392.4 1592.8h3.4v1h-3.4zM425.3 1592.8h3.4v8.7h-3.4zM432 1592.8h3.4v7.7h-3.4zM465.1 1592.8h3.4v5.7h-3.4zM471.5 1592.8h3.4v2h-3.4zM491.5 1592.8h3.4v2h-3.4zM517.4 1592.8h3.4v5h-3.4zM524.1 1592.8h3.4v8.7h-3.4zM544.3 1592.8h3.4v2h-3.4zM550.5 1592.8h3.4v2h-3.4zM577.1 1592.8h3.4v1h-3.4zM590.3 1592.8h3.4v3.7h-3.4zM596.3 1592.8h3.4v3h-3.4zM623.2 1592.8h3.4v1h-3.4zM656.3 1592.8h3.4v9.7h-3.4zM662.6 1592.8h3.4v2h-3.4zM682.5 1592.8h3.4v5h-3.4zM688.2 1592.8h3.4v8.7h-3.4zM701.9 1592.8h3.4v2h-3.4zM708.4 1592.8h3.4v9.7h-3.4zM714.9 1592.8h3.4v1h-3.4zM754.5 1592.8h3.4v5h-3.4zM787.4 1592.8h3.4v9.7h-3.4zM813.5 1592.8h3.4v1h-3.4zM827 1592.8h3.4v5h-3.4zM846.1 1592.8h3.4v1h-3.4zM873 1592.8h3.4v2h-3.4zM905.9 1592.8h3.4v2h-3.4zM919.1 1592.8h3.4v3.7h-3.4zM925.3 1592.8h3.4v3h-3.4zM945.2 1592.8h3.4v3.7h-3.4zM964.9 1592.8h3.4v3.7h-3.4zM971.1 1592.8h3.4v9.7h-3.4zM978.1 1592.8h3.4v1h-3.4zM1024.2 1592.8h3.4v3.7h-3.4zM1050.3 1592.8h3.4v1.5h-3.4zM1070.2 1592.8h3.4v1.5h-3.4zM1077.2 1592.8h3.4v7.7h-3.4zM1090.2 1592.8h3.4v7.7h-3.4zM1096.1 1592.8h3.4v5.7h-3.4zM1103.1 1592.8h3.4v2h-3.4zM1109.3 1592.8h3.4v2h-3.4zM1149.2 1592.8h3.4v7h-3.4zM1162.4 1592.8h3.4v8.7h-3.4zM1188.3 1592.8h3.4v11.7h-3.4zM1221.4 1592.8h3.4v5h-3.4zM1227.9 1592.8h3.4v2h-3.4zM1234.4 1592.8h3.4v5h-3.4zM1241.3 1592.8h3.4v3.7h-3.4zM1280.2 1592.8h3.4v1h-3.4zM1300.1 1592.8h3.4v7h-3.4zM1313.3 1592.8h3.4v3.7h-3.4zM1326.8 1592.8h3.4v2h-3.4zM1372.8 1592.8h3.4v5h-3.4zM1379.3 1592.8h3.4v3h-3.4zM1385.7 1592.8h3.4v1h-3.4zM1419.1 1592.8h3.4v8.7h-3.4zM1425.1 1592.8h3.4v9.7h-3.4zM1432.3 1592.8h3.4v5h-3.4zM1458.5 1592.8h3.4v2h-3.4zM1471.4 1592.8h3.4v1h-3.4zM1498.1 1592.8h3.4v2h-3.4zM1511 1592.8h3.4v2h-3.4zM1537.2 1592.8h3.4v3.7h-3.4zM1544.1 1592.8h3.4v3.7h-3.4zM1563.3 1592.8h3.4v5.7h-3.4zM1583.2 1592.8h3.4v5h-3.4zM1596.2 1592.8h3.4v3h-3.4zM1609.1 1592.8h3.4v1h-3.4zM1622.8 1592.8h3.4v1h-3.4zM1649.2 1592.8h3.4v1h-3.4zM1655.5 1592.8h3.4v1h-3.4zM1669.2 1592.8h3.4v5.7h-3.4zM1682.1 1592.8h3.4v3.7h-3.4zM1715 1592.8h3.4v5.7h-3.4zM1721.2 1592.8h3.4v3.7h-3.4zM1741.2 1592.8h3.4v2h-3.4zM1748.1 1592.8h3.4v3.7h-3.4z" fill="#71588f"/>
<path d="M90.4 1687h3.6V1676.3h-3.6zM143.5 1687h3.6V1676.3h-3.6zM155.9 1687h3.6V1676.3h-3.6zM162.7 1687h3.6V1676.3h-3.6zM175.1 1687h3.6V1676.3h-3.6zM202.5 1687h3.6V1665.1h-3.6zM241.1 1687h3.6V1676.3h-3.6zM268 1687h3.6V1676.3h-3.6zM314.6 1687h3.6V1676.3h-3.6zM320.1 1687h3.6V1676.3h-3.6zM340.2 1687h3.6V1665.1h-3.6zM366.4 1687h3.6V1676.3h-3.6zM392.3 1687h3.6V1676.3h-3.6zM432.1 1687h3.6V1665.1h-3.6zM471.4 1687h3.6V1665.1h-3.6zM524.2 1687h3.6V1665.1h-3.6zM550.4 1687h3.6V1676.3h-3.6zM556.9 1687h3.6V1676.3h-3.6zM590.2 1687h3.6V1665.1h-3.6zM656.2 1687h3.6V1665.1h-3.6zM688.1 1687h3.6V1641.2h-3.6zM708.1 1687h3.6V1665.1h-3.6zM714.8 1687h3.6V1676.3h-3.6zM728 1687h3.6V1676.3h-3.6zM761.4 1687h3.6V1665.1h-3.6zM781.3 1687h3.6V1641.2h-3.6zM827.1 1687h3.6V1676.3h-3.6zM846 1687h3.6V1676.3h-3.6zM912 1687h3.6V1665.1h-3.6zM925.2 1687h3.6V1665.1h-3.6zM971 1687h3.6V1665.1h-3.6zM1070.1 1687h3.6V1665.1h-3.6zM1077.1 1687h3.6V1676.3h-3.6zM1082.6 1687h3.6V1676.3h-3.6zM1090.1 1687h3.6V1676.3h-3.6zM1095.8 1687h3.6V1676.3h-3.6zM1103 1687h3.6V1665.1h-3.6zM1162.3 1687h3.6V1665.1h-3.6zM1188.4 1687h3.6V1665.1h-3.6zM1228 1687h3.6V1665.1h-3.6zM1234.5 1687h3.6V1676.3h-3.6zM1241.2 1687h3.6V1676.3h-3.6zM1287.3 1687h3.6V1665.1h-3.6zM1379.2 1687h3.6V1665.1h-3.6zM1419 1687h3.6V1665.1h-3.6zM1425.2 1687h3.6V1676.3h-3.6zM1432 1687h3.6V1676.3h-3.6zM1511.2 1687h3.6V1665.1h-3.6zM1544 1687h3.6V1665.1h-3.6zM1563.5 1687h3.6V1676.3h-3.6zM1576.2 1687h3.6V1676.3h-3.6zM1589.9 1687h3.6V1665.1h-3.6zM1649.1 1687h3.6V1665.1h-3.6zM1669.1 1687h3.6V1676.3h-3.6zM1675 1687h3.6V1676.3h-3.6zM1721.1 1687h3.6V1665.1h-3.6zM1748 1687h3.6V1665.1h-3.6z" fill="#90ed7d"/>
<path d="M90.5 1687H144.5V1675.8H90.5zM156.5 1687H164.5V1675.8H156.5zM176.4 1687H203.8V1675.8H176.4zM269.1 1687H316.4V1675.8H269.1zM341.3 1687H368.2V1675.8H341.3zM433.4 1687H473.3V1675.8H433.4zM526 1687H551.7V1675.8H526zM592 1687H657.3V1675.8H592zM710.3 1687H716.6V1675.8H710.3zM729.8 1687H762.7V1675.8H729.8zM914.1 1687H928.3V1675.8H914.1zM973.1 1687H1071.9V1675.8H973.1zM1083.9 1687H1091.4V1675.8H1083.9zM1098.1 1687H1104.8V1675.8H1098.1zM1164.1 1687H1190.2V1675.8H1164.1zM1229.6 1687H1235.8V1675.8H1229.6zM1243 1687H1289.1V1675.8H1243zM1381.2 1687H1419.8V1675.8H1381.2zM1433.5 1687H1512.5V1675.8H1433.5zM1545.6 1687H1565V1675.8H1545.6zM1591.7 1687H1650.2V1675.8H1591.7zM1676.8 1687H1722.4V1675.8H1676.8zM1749.8 1687H1801.6V1675.8H1749.8z" fill="#f7a35c" fill-opacity="0.75"/>
<path d="M203.6 1687H242.9V1698.7H203.6zM321.9 1687H341.3V1698.7H321.9zM394.1 1687H433.4V1698.7H394.1zM473.2 1687H525.3V1698.7H473.2zM558.7 1687H591.3V1698.7H558.7zM657.3 1687H709.6V1698.7H657.3zM762.7 1687H827.9V1698.7H762.7zM848.1 1687H913.6V1698.7H848.1zM927 1687H972.8V1698.7H927zM1071.9 1687H1077.9V1698.7H1071.9zM1104.8 1687H1163.6V1698.7H1104.8zM1190.2 1687H1229.3V1698.7H1190.2zM1289.1 1687H1370.8V1698.7H1289.1zM1370 1687H1380.7V1698.7H1370zM1420.3 1687H1426.8V1698.7H1420.3zM1512.5 1687H1545.1V1698.7H1512.5zM1578.2 1687H1590.9V1698.7H1578.2zM1650.7 1687H1669.9V1698.7H1650.7zM1723.2 1687H1748.8V1698.7H1723.2z" fill="#8085e9" fill-opacity="0.75"/>
<path d="M29 1687H1805" stroke="#2b96d4" stroke-width="1.6" fill="none"/>
<path d="M32 1782.9 L91.5 1782.9 L91.5 1735.6 L144 1735.6 L144 1782.9 L157.2 1782.9 L157.2 1722.1 L163.7 1722.1 L163.7 1782.9 L176.9 1782.9 L176.9 1719.6 L203.6 1719.6 L203.6 1723.1 L242.9 1723.1 L242.9 1782.9 L269.1 1782.9 L269.1 1723.3 L315.6 1723.3 L315.6 1782.9 L321.6 1782.9 L321.6 1723.6 L341.8 1723.6 L341.8 1721.9 L367.9 1721.9 L367.9 1782.9 L394.1 1782.9 L394.1 1723.6 L433.4 1723.6 L433.4 1725.6 L473.3 1725.6 L473.2 1725.8 L525.3 1726.6 L525.3 1728.3 L551.7 1728.3 L551.7 1782.9 L558.4 1782.9 L558.4 1727.8 L591.3 1727.8 L591.3 1727.3 L657.3 1727.3 L657.3 1722.9 L709.6 1722.4 L709.6 1721.4 L716.6 1721.4 L716.6 1782.9 L729.5 1782.9 L729.5 1721.6 L762.7 1721.6 L762.7 1720.9 L782.1 1720.9 L782.1 1722.4 L828.4 1722.4 L828.4 1782.9 L848.1 1782.9 L848.1 1726.6 L913.6 1726.6 L913.6 1728.1 L927.3 1728.3 L927 1729.3 L972.8 1730.3 L972.8 1730.8 L1071.9 1730.3 L1071.9 1724.8 L1077.9 1724.8 L1077.9 1782.9 L1084.4 1782.9 L1084.4 1721.9 L1091.4 1721.9 L1091.4 1782.9 L1097.8 1782.9 L1097.8 1721.4 L1104.3 1721.4 L1104.3 1724.3 L1163.6 1724.3 L1163.6 1730.6 L1190.2 1731.1 L1190.2 1731.3 L1229.6 1731.3 L1229.6 1729.3 L1235.8 1729.3 L1235.8 1782.9 L1242.8 1782.9 L1242.8 1729.3 L1289.1 1729.3 L1289.1 1727.3 L1370.8 1727.1 L1380.7 1727.3 L1380.7 1733.1 L1420.6 1733.1 L1420.6 1731.8 L1426.8 1731.8 L1426.8 1782.9 L1433.5 1782.9 L1433.5 1728.8 L1512.5 1728.8 L1512.5 1725.8 L1545.1 1725.8 L1545.1 1727.6 L1565 1727.6 L1565 1782.9 L1578.2 1782.9 L1578.2 1729.3 L1591.2 1729.3 L1591.2 1727.3 L1650.7 1727.3 L1650.7 1723.3 L1670.1 1723.3 L1670.1 1782.9 L1676.6 1782.9 L1676.6 1722.6 L1722.9 1722.6 L1722.9 1720.9 L1801.6 1720.9" stroke="#6e5f22" stroke-width="1.1" fill="none"/>
<path d="M29 1783.5H1805" stroke="#ccd6eb" stroke-width="1" fill="none"/>
<text x="56.3" y="1802" font-size="11" fill="#666" xml:space="preserve" textLength="20.5">26. </text><text x="76.7" y="1801.8" font-size="11" fill="#666" font-family='"Liberation Sans", "Noto Sans CJK SC", sans-serif'>二月</text>
<text x="148.4" y="1802" font-size="11" fill="#666" xml:space="preserve" textLength="20.5">11. </text><text x="168.9" y="1801.8" font-size="11" fill="#666" font-family='"Liberation Sans", "Noto Sans CJK SC", sans-serif'>三月</text>
<text x="240.5" y="1802" font-size="11" fill="#666" xml:space="preserve" textLength="20.5">25. </text><text x="261" y="1801.8" font-size="11" fill="#666" font-family='"Liberation Sans", "Noto Sans CJK SC", sans-serif'>三月</text>
<text x="335.9" y="1802" font-size="11" fill="#666" xml:space="preserve" textLength="13.9">8. </text><text x="349.8" y="1801.8" font-size="11" fill="#666" font-family='"Liberation Sans", "Noto Sans CJK SC", sans-serif'>四月</text>
<text x="424.8" y="1802" font-size="11" fill="#666" xml:space="preserve" textLength="20.5">22. </text><text x="445.2" y="1801.8" font-size="11" fill="#666" font-family='"Liberation Sans", "Noto Sans CJK SC", sans-serif'>四月</text>
<text x="520.2" y="1802" font-size="11" fill="#666" xml:space="preserve" textLength="13.9">6. </text><text x="534" y="1801.8" font-size="11" fill="#666" font-family='"Liberation Sans", "Noto Sans CJK SC", sans-serif'>五月</text>
<text x="609" y="1802" font-size="11" fill="#666" xml:space="preserve" textLength="20.5">20. </text><text x="629.5" y="1801.8" font-size="11" fill="#666" font-family='"Liberation Sans", "Noto Sans CJK SC", sans-serif'>五月</text>
<text x="704.4" y="1802" font-size="11" fill="#666" xml:space="preserve" textLength="13.9">3. </text><text x="718.3" y="1801.8" font-size="11" fill="#666" font-family='"Liberation Sans", "Noto Sans CJK SC", sans-serif'>六月</text>
<text x="793.2" y="1802" font-size="11" fill="#666" xml:space="preserve" textLength="20.5">17. </text><text x="813.7" y="1801.8" font-size="11" fill="#666" font-family='"Liberation Sans", "Noto Sans CJK SC", sans-serif'>六月</text>
<text x="888.7" y="1802" font-size="11" fill="#666" xml:space="preserve" textLength="13.9">1. </text><text x="902.5" y="1801.8" font-size="11" fill="#666" font-family='"Liberation Sans", "Noto Sans CJK SC", sans-serif'>七月</text>
<text x="977.5" y="1802" font-size="11" fill="#666" xml:space="preserve" textLength="20.5">15. </text><text x="997.9" y="1801.8" font-size="11" fill="#666" font-family='"Liberation Sans", "Noto Sans CJK SC", sans-serif'>七月</text>
<text x="1069.6" y="1802" font-size="11" fill="#666" xml:space="preserve" textLength="20.5">29. </text><text x="1090.1" y="1801.8" font-size="11" fill="#666" font-family='"Liberation Sans", "Noto Sans CJK SC", sans-serif'>七月</text>
<text x="1161.7" y="1802" font-size="11" fill="#666" xml:space="preserve" textLength="20.5">12. </text><text x="1182.2" y="1801.8" font-size="11" fill="#666" font-family='"Liberation Sans", "Noto Sans CJK SC", sans-serif'>八月</text>
<text x="1253.8" y="1802" font-size="11" fill="#666" xml:space="preserve" textLength="20.5">26. </text><text x="1274.3" y="1801.8" font-size="11" fill="#666" font-family='"Liberation Sans", "Noto Sans CJK SC", sans-serif'>八月</text>
<text x="1349.2" y="1802" font-size="11" fill="#666" xml:space="preserve" textLength="13.9">9. </text><text x="1363.1" y="1801.8" font-size="11" fill="#666" font-family='"Liberation Sans", "Noto Sans CJK SC", sans-serif'>九月</text>
<text x="1438.1" y="1802" font-size="11" fill="#666" xml:space="preserve" textLength="20.5">23. </text><text x="1458.5" y="1801.8" font-size="11" fill="#666" font-family='"Liberation Sans", "Noto Sans CJK SC", sans-serif'>九月</text>
<text x="1533.5" y="1802" font-size="11" fill="#666" xml:space="preserve" textLength="13.9">7. </text><text x="1547.3" y="1801.8" font-size="11" fill="#666" font-family='"Liberation Sans", "Noto Sans CJK SC", sans-serif'>十月</text>
<text x="1622.3" y="1802" font-size="11" fill="#666" xml:space="preserve" textLength="20.5">21. </text><text x="1642.8" y="1801.8" font-size="11" fill="#666" font-family='"Liberation Sans", "Noto Sans CJK SC", sans-serif'>十月</text>
<text x="1712.2" y="1802" font-size="11" fill="#666" xml:space="preserve" textLength="13.9">4. </text><text x="1726.1" y="1801.8" font-size="11" fill="#666" font-family='"Liberation Sans", "Noto Sans CJK SC", sans-serif'>十一月</text>
<path d="M77.5 1783.5V1793M169.6 1783.5V1793M261.7 1783.5V1793M353.9 1783.5V1793M446 1783.5V1793M538.1 1783.5V1793M630.2 1783.5V1793M722.3 1783.5V1793M814.5 1783.5V1793M906.6 1783.5V1793M998.7 1783.5V1793M1090.8 1783.5V1793M1182.9 1783.5V1793M1275.1 1783.5V1793M1367.2 1783.5V1793M1459.3 1783.5V1793M1551.4 1783.5V1793M1643.5 1783.5V1793M1735.7 1783.5V1793" stroke="#ccd6eb" stroke-width="1" fill="none"/>
<circle cx="532.5" cy="1816.8" r="6" fill="#4572a7"/><text x="546.4" y="1821.0" font-size="12" font-weight="bold" fill="#333" textLength="21.4">PnL</text>
<path d="M587.8 1816.8H603.7" stroke="#d98880" stroke-width="1.5"/><text x="609.1" y="1821.0" font-size="12" font-weight="bold" fill="#333" textLength="110.5">Benchmark return</text>
<circle cx="748" cy="1816.8" r="6" fill="#434348"/><text x="761.5" y="1821.0" font-size="12" font-weight="bold" fill="#333" textLength="66">Period P&amp;L</text>
<circle cx="855.8" cy="1816.8" r="6" fill="#90ed7d"/><text x="868.8" y="1821.0" font-size="12" font-weight="bold" fill="#333" textLength="58.7">Trade Vol</text>
<circle cx="956.3" cy="1816.8" r="6" fill="#f7a35c"/><text x="969.9" y="1821.0" font-size="12" font-weight="bold" fill="#333" textLength="80.5">Position long</text>
<circle cx="1078.6" cy="1816.8" r="6" fill="#8085e9"/><text x="1092" y="1821.0" font-size="12" font-weight="bold" fill="#333" textLength="86">Position short</text>
<path d="M1198 1816.8H1214" stroke="#8d7a3e" stroke-width="1.5"/><text x="1219.6" y="1821.0" font-size="12" font-weight="bold" fill="#333" textLength="100.8">Asset utilization</text>
<rect x="28.3" y="1829.5" width="1776.7" height="20" fill="#c7d4e8"/>
<path d="M28.3 1829.5H1805M28.3 1849.5H1805" stroke="#c2c6cc" stroke-width="1" fill="none"/>
<text x="104.6" y="1845" font-size="11" fill="#a9b7cf" font-family='"Liberation Sans", "Noto Sans CJK SC", sans-serif'>三月</text>
<text x="129.6" y="1845" font-size="11" fill="#a9b7cf" textLength="17">'24</text>
<text x="309.1" y="1845" font-size="11" fill="#a9b7cf" font-family='"Liberation Sans", "Noto Sans CJK SC", sans-serif'>四月</text>
<text x="334.1" y="1845" font-size="11" fill="#a9b7cf" textLength="17">'24</text>
<text x="507" y="1845" font-size="11" fill="#a9b7cf" font-family='"Liberation Sans", "Noto Sans CJK SC", sans-serif'>五月</text>
<text x="532" y="1845" font-size="11" fill="#a9b7cf" textLength="17">'24</text>
<text x="711.5" y="1845" font-size="11" fill="#a9b7cf" font-family='"Liberation Sans", "Noto Sans CJK SC", sans-serif'>六月</text>
<text x="736.5" y="1845" font-size="11" fill="#a9b7cf" textLength="17">'24</text>
<text x="909.4" y="1845" font-size="11" fill="#a9b7cf" font-family='"Liberation Sans", "Noto Sans CJK SC", sans-serif'>七月</text>
<text x="934.4" y="1845" font-size="11" fill="#a9b7cf" textLength="17">'24</text>
<text x="1113.9" y="1845" font-size="11" fill="#a9b7cf" font-family='"Liberation Sans", "Noto Sans CJK SC", sans-serif'>八月</text>
<text x="1138.9" y="1845" font-size="11" fill="#a9b7cf" textLength="17">'24</text>
<text x="1318.4" y="1845" font-size="11" fill="#a9b7cf" font-family='"Liberation Sans", "Noto Sans CJK SC", sans-serif'>九月</text>
<text x="1343.4" y="1845" font-size="11" fill="#a9b7cf" textLength="17">'24</text>
<text x="1516.3" y="1845" font-size="11" fill="#a9b7cf" font-family='"Liberation Sans", "Noto Sans CJK SC", sans-serif'>十月</text>
<text x="1541.3" y="1845" font-size="11" fill="#a9b7cf" textLength="17">'24</text>
<text x="1720.8" y="1845" font-size="11" fill="#a9b7cf" font-family='"Liberation Sans", "Noto Sans CJK SC", sans-serif'>十一月</text>
<text x="1756.8" y="1845" font-size="11" fill="#a9b7cf" textLength="17">'24</text>
<path d="M101.6 1830V1849M306.1 1830V1849M504 1830V1849M708.5 1830V1849M906.4 1830V1849M1110.9 1830V1849M1315.4 1830V1849M1513.3 1830V1849M1717.8 1830V1849" stroke="#bac7dd" stroke-width="1" fill="none"/>
<rect x="24.5" y="1831.5" width="8" height="15" rx="1" fill="#f2f2f2" stroke="#999" stroke-width="1"/><path d="M27.5 1835.5V1842.5M29.5 1835.5V1842.5" stroke="#777" stroke-width="0.9" fill="none"/>
<rect x="1800.5" y="1831.5" width="8" height="15" rx="1" fill="#f2f2f2" stroke="#999" stroke-width="1"/><path d="M1803.5 1835.5V1842.5M1805.5 1835.5V1842.5" stroke="#777" stroke-width="0.9" fill="none"/>
<g fill="#444"><path d="M1813.58 935.42L1816.27 939.33L1818.5 939.5L1818.33 937.27L1814.42 934.58z"/><path d="M1826.42 935.42L1823.73 939.33L1821.5 939.5L1821.67 937.27L1825.58 934.58z"/><path d="M1813.58 946.58L1816.27 942.67L1818.5 942.5L1818.33 944.73L1814.42 947.42z"/><path d="M1826.42 946.58L1823.73 942.67L1821.5 942.5L1821.67 944.73L1825.58 947.42z"/></g>
<circle cx="1729.3" cy="987.1" r="4.9" fill="none" stroke="#444" stroke-width="1.3"/><path d="M1732.9 990.8L1737.6 995.4" stroke="#444" stroke-width="1.4" stroke-linecap="round"/>
<path d="M1752 983.5H1766M1752 989H1766M1752 994.6H1766" stroke="#444" stroke-width="1.4" stroke-linecap="round" fill="none"/>
<path d="M1784 992.9h-1.6a3.3 3.3 0 0 1 -0.3 -6.5a5 5 0 0 1 9.6 0a3.3 3.3 0 0 1 -0.3 6.5h-1.2" fill="none" stroke="#444" stroke-width="1.3" stroke-linecap="round"/><path d="M1786.9 988.4V994.4M1784.9 992.6l2 2.2l2 -2.2" fill="none" stroke="#444" stroke-width="1.3" stroke-linecap="round" stroke-linejoin="round"/>
<path d="M1812.98 983.39L1813.29 981.45L1816.31 981.45L1816.62 983.39L1818.66 984.57L1820.5 983.87L1822.01 986.48L1820.48 987.73L1820.48 990.07L1822.01 991.32L1820.5 993.93L1818.66 993.23L1816.62 994.41L1816.31 996.35L1813.29 996.35L1812.98 994.41L1810.94 993.23L1809.1 993.93L1807.59 991.32L1809.12 990.07L1809.12 987.73L1807.59 986.48L1809.1 983.87L1810.94 984.57z" fill="none" stroke="#444" stroke-width="1.3" stroke-linejoin="round"/><circle cx="1814.8" cy="988.9" r="2.7" fill="none" stroke="#444" stroke-width="1.3"/>
</svg>
</body></html>
